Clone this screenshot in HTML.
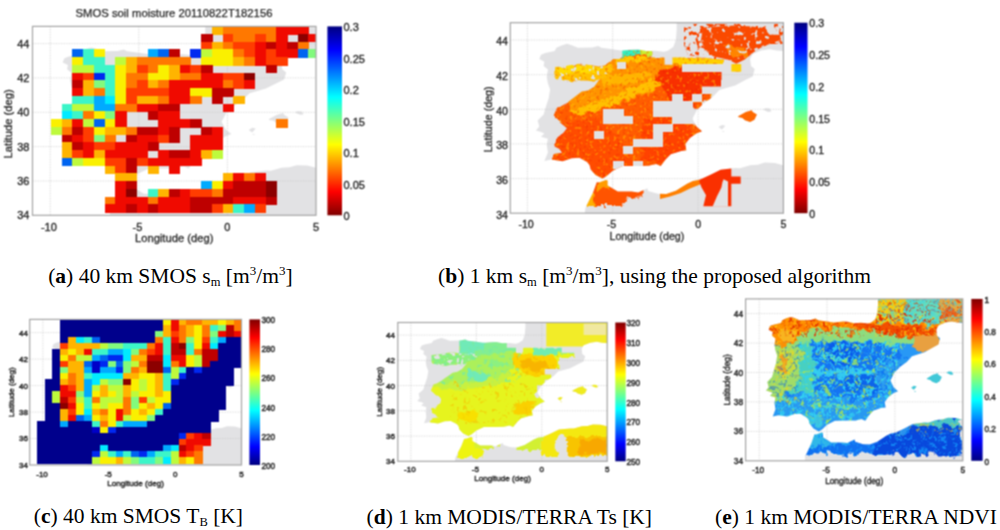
<!DOCTYPE html><html><head><meta charset="utf-8"><style>html,body{margin:0;padding:0;background:#fff;width:1000px;height:530px;overflow:hidden;position:relative}svg{display:block;position:absolute;left:0;top:0}</style></head><body>
<svg id="pn" width="1000" height="530" viewBox="0 0 1000 530">
<defs><clipPath id="clipa"><rect x="32.5" y="26.4" width="283.5" height="188.9"/></clipPath><clipPath id="landa"><path d="M205.3 16.1L205.3 33.3L204.4 43.6L201.7 50.4L195.9 54.2L192.0 55.3L183.1 54.2L174.2 54.7L165.4 53.0L160.1 52.7L147.7 53.9L138.8 52.7L127.1 51.3L123.8 49.4L117.5 51.0L102.7 51.3L96.3 48.7L91.3 47.4L85.7 49.1L80.3 51.3L78.6 54.4L68.8 56.5L64.4 58.2L62.6 62.5L67.9 65.0L67.1 69.3L71.5 72.8L70.2 80.2L71.5 86.5L73.8 92.5L72.4 101.3L69.7 109.0L67.1 117.4L60.8 123.3L62.6 129.4L59.1 133.2L64.4 134.8L67.9 136.3L64.4 139.4L71.5 141.5L70.2 147.5L71.5 155.2L67.9 163.4L75.0 162.1L86.9 163.8L96.3 160.9L104.3 160.3L112.2 164.6L114.7 167.4L116.0 171.9L121.1 177.5L128.2 181.0L132.6 178.6L138.8 173.2L149.1 168.6L165.0 168.4L176.0 168.2L183.8 166.5L188.6 168.6L193.7 162.1L199.1 156.9L210.0 153.5L215.2 153.0L214.1 146.6L218.9 140.8L225.6 136.3L231.5 134.1L225.6 129.4L221.6 121.7L226.5 112.6L234.5 105.4L242.8 99.9L249.6 93.2L265.9 88.6L277.0 83.1L284.1 79.6L286.2 72.4L282.3 69.3L281.4 62.5L284.1 57.3L293.0 53.9L301.8 52.7L308.9 53.9L319.5 54.7L326.6 55.6L326.6 16.1ZM108.7 223.9L110.5 210.1L118.4 194.9L122.3 184.6L124.6 184.7L131.7 182.3L133.5 182.8L133.5 187.8L144.1 193.8L158.3 193.8L165.4 194.7L174.8 190.6L175.5 193.1L185.8 196.1L194.4 196.4L204.4 193.0L216.1 186.1L222.1 183.4L229.0 182.2L239.8 177.5L250.8 172.2L266.2 170.5L270.8 170.8L281.6 167.7L289.4 167.2L296.7 165.2L307.1 165.5L317.2 168.1L326.6 168.9L326.6 223.9ZM269.0 120.0L273.5 120.8L276.1 123.1L281.4 124.8L285.9 122.6L288.5 117.4L284.1 114.8L283.2 113.1L277.0 114.8L269.0 119.1ZM294.7 112.6L300.1 114.8L303.6 114.5L301.8 111.4L297.4 111.2ZM248.7 130.0L252.2 132.4L255.8 128.6L252.2 127.7ZM251.9 134.2L254.9 134.9L254.0 133.7Z"/></clipPath><clipPath id="maina"><path d="M205.3 16.1L205.3 33.3L204.4 43.6L201.7 50.4L195.9 54.2L192.0 55.3L183.1 54.2L174.2 54.7L165.4 53.0L160.1 52.7L147.7 53.9L138.8 52.7L127.1 51.3L123.8 49.4L117.5 51.0L102.7 51.3L96.3 48.7L91.3 47.4L85.7 49.1L80.3 51.3L78.6 54.4L68.8 56.5L64.4 58.2L62.6 62.5L67.9 65.0L67.1 69.3L71.5 72.8L70.2 80.2L71.5 86.5L73.8 92.5L72.4 101.3L69.7 109.0L67.1 117.4L60.8 123.3L62.6 129.4L59.1 133.2L64.4 134.8L67.9 136.3L64.4 139.4L71.5 141.5L70.2 147.5L71.5 155.2L67.9 163.4L75.0 162.1L86.9 163.8L96.3 160.9L104.3 160.3L112.2 164.6L114.7 167.4L116.0 171.9L121.1 177.5L128.2 181.0L132.6 178.6L138.8 173.2L149.1 168.6L165.0 168.4L176.0 168.2L183.8 166.5L188.6 168.6L193.7 162.1L199.1 156.9L210.0 153.5L215.2 153.0L214.1 146.6L218.9 140.8L225.6 136.3L231.5 134.1L225.6 129.4L221.6 121.7L226.5 112.6L234.5 105.4L242.8 99.9L249.6 93.2L265.9 88.6L277.0 83.1L284.1 79.6L286.2 72.4L282.3 69.3L281.4 62.5L284.1 57.3L293.0 53.9L301.8 52.7L308.9 53.9L319.5 54.7L326.6 55.6L326.6 16.1Z"/></clipPath><clipPath id="afra"><path d="M108.7 223.9L110.5 210.1L118.4 194.9L122.3 184.6L124.6 184.7L131.7 182.3L133.5 182.8L133.5 187.8L144.1 193.8L158.3 193.8L165.4 194.7L174.8 190.6L175.5 193.1L185.8 196.1L194.4 196.4L204.4 193.0L216.1 186.1L222.1 183.4L229.0 182.2L239.8 177.5L250.8 172.2L266.2 170.5L270.8 170.8L281.6 167.7L289.4 167.2L296.7 165.2L307.1 165.5L317.2 168.1L326.6 168.9L326.6 223.9Z"/></clipPath><clipPath id="isla"><path d="M269.0 120.0L273.5 120.8L276.1 123.1L281.4 124.8L285.9 122.6L288.5 117.4L284.1 114.8L283.2 113.1L277.0 114.8L269.0 119.1ZM294.7 112.6L300.1 114.8L303.6 114.5L301.8 111.4L297.4 111.2ZM248.7 130.0L252.2 132.4L255.8 128.6L252.2 127.7ZM251.9 134.2L254.9 134.9L254.0 133.7Z"/></clipPath><clipPath id="clipb"><rect x="510.3" y="22.7" width="273.1" height="190.5"/></clipPath><clipPath id="landb"><path d="M676.7 12.3L676.7 29.6L675.9 40.0L673.3 46.9L667.7 50.8L663.9 51.8L655.4 50.8L646.9 51.3L638.3 49.5L633.2 49.2L621.2 50.4L612.7 49.2L601.4 47.8L598.2 45.9L592.2 47.5L577.9 47.8L571.7 45.2L567.0 43.8L561.5 45.6L556.4 47.8L554.7 50.9L545.3 53.0L541.0 54.7L539.3 59.1L544.4 61.7L543.6 66.0L547.9 69.5L546.7 76.9L547.9 83.3L550.1 89.4L548.7 98.2L546.1 106.0L543.6 114.5L537.6 120.4L539.3 126.6L535.9 130.4L541.0 132.0L544.4 133.5L541.0 136.7L547.9 138.7L546.7 144.8L547.9 152.6L544.4 160.9L551.3 159.5L562.7 161.2L571.7 158.3L579.4 157.8L587.1 162.1L589.5 164.9L590.7 169.4L595.6 175.1L602.5 178.6L606.7 176.1L612.7 170.8L622.6 166.1L638.0 165.9L648.6 165.7L656.1 164.0L660.7 166.1L665.6 159.5L670.7 154.3L681.3 150.9L686.3 150.3L685.3 143.9L689.9 138.0L696.3 133.5L702.0 131.3L696.3 126.6L692.4 118.8L697.2 109.6L704.9 102.4L712.9 96.8L719.4 90.1L735.1 85.4L745.8 79.8L752.7 76.4L754.7 69.1L751.0 66.0L750.1 59.1L752.7 53.9L761.2 50.4L769.7 49.2L776.6 50.4L786.8 51.3L793.6 52.1L793.6 12.3ZM583.7 221.9L585.4 208.0L593.1 192.6L596.8 182.2L599.1 182.4L605.9 179.9L607.6 180.5L607.6 185.5L617.8 191.6L631.5 191.6L638.3 192.4L647.4 188.3L648.0 190.9L657.9 193.8L666.3 194.1L675.9 190.7L687.1 183.8L692.9 181.0L699.6 179.8L710.0 175.1L720.6 169.7L735.4 168.0L739.9 168.3L750.3 165.2L757.8 164.7L764.8 162.6L774.9 163.0L784.6 165.6L793.6 166.4L793.6 221.9ZM738.2 117.1L742.4 117.9L745.0 120.2L750.1 121.9L754.4 119.7L756.9 114.5L752.7 111.9L751.8 110.2L745.8 111.9L738.2 116.2ZM762.9 109.6L768.0 111.9L771.5 111.5L769.7 108.4L765.5 108.3ZM718.5 127.1L722.0 129.6L725.4 125.7L722.0 124.9ZM721.6 131.5L724.5 132.2L723.7 130.9Z"/></clipPath><clipPath id="mainb"><path d="M676.7 12.3L676.7 29.6L675.9 40.0L673.3 46.9L667.7 50.8L663.9 51.8L655.4 50.8L646.9 51.3L638.3 49.5L633.2 49.2L621.2 50.4L612.7 49.2L601.4 47.8L598.2 45.9L592.2 47.5L577.9 47.8L571.7 45.2L567.0 43.8L561.5 45.6L556.4 47.8L554.7 50.9L545.3 53.0L541.0 54.7L539.3 59.1L544.4 61.7L543.6 66.0L547.9 69.5L546.7 76.9L547.9 83.3L550.1 89.4L548.7 98.2L546.1 106.0L543.6 114.5L537.6 120.4L539.3 126.6L535.9 130.4L541.0 132.0L544.4 133.5L541.0 136.7L547.9 138.7L546.7 144.8L547.9 152.6L544.4 160.9L551.3 159.5L562.7 161.2L571.7 158.3L579.4 157.8L587.1 162.1L589.5 164.9L590.7 169.4L595.6 175.1L602.5 178.6L606.7 176.1L612.7 170.8L622.6 166.1L638.0 165.9L648.6 165.7L656.1 164.0L660.7 166.1L665.6 159.5L670.7 154.3L681.3 150.9L686.3 150.3L685.3 143.9L689.9 138.0L696.3 133.5L702.0 131.3L696.3 126.6L692.4 118.8L697.2 109.6L704.9 102.4L712.9 96.8L719.4 90.1L735.1 85.4L745.8 79.8L752.7 76.4L754.7 69.1L751.0 66.0L750.1 59.1L752.7 53.9L761.2 50.4L769.7 49.2L776.6 50.4L786.8 51.3L793.6 52.1L793.6 12.3Z"/></clipPath><clipPath id="afrb"><path d="M583.7 221.9L585.4 208.0L593.1 192.6L596.8 182.2L599.1 182.4L605.9 179.9L607.6 180.5L607.6 185.5L617.8 191.6L631.5 191.6L638.3 192.4L647.4 188.3L648.0 190.9L657.9 193.8L666.3 194.1L675.9 190.7L687.1 183.8L692.9 181.0L699.6 179.8L710.0 175.1L720.6 169.7L735.4 168.0L739.9 168.3L750.3 165.2L757.8 164.7L764.8 162.6L774.9 163.0L784.6 165.6L793.6 166.4L793.6 221.9Z"/></clipPath><clipPath id="islb"><path d="M738.2 117.1L742.4 117.9L745.0 120.2L750.1 121.9L754.4 119.7L756.9 114.5L752.7 111.9L751.8 110.2L745.8 111.9L738.2 116.2ZM762.9 109.6L768.0 111.9L771.5 111.5L769.7 108.4L765.5 108.3ZM718.5 127.1L722.0 129.6L725.4 125.7L722.0 124.9ZM721.6 131.5L724.5 132.2L723.7 130.9Z"/></clipPath><clipPath id="clipc"><rect x="29.7" y="319.4" width="211.8" height="145.6"/></clipPath><clipPath id="landc"><path d="M158.8 311.5L158.8 324.7L158.1 332.6L156.1 337.9L151.7 340.8L148.8 341.6L142.2 340.8L135.6 341.2L129.0 339.9L125.0 339.7L115.7 340.6L109.1 339.7L100.4 338.6L97.9 337.1L93.2 338.3L82.1 338.6L77.4 336.6L73.6 335.5L69.4 336.9L65.4 338.6L64.1 341.0L56.8 342.6L53.5 343.9L52.2 347.2L56.2 349.2L55.5 352.5L58.8 355.1L57.9 360.8L58.8 365.7L60.5 370.4L59.5 377.1L57.5 383.1L55.5 389.6L50.9 394.1L52.2 398.8L49.6 401.7L53.5 402.9L56.2 404.1L53.5 406.5L58.8 408.1L57.9 412.7L58.8 418.7L56.2 425.0L61.5 424.0L70.3 425.3L77.4 423.0L83.3 422.6L89.3 426.0L91.1 428.1L92.0 431.5L95.9 435.9L101.2 438.5L104.5 436.7L109.1 432.6L116.8 429.0L128.7 428.9L136.9 428.7L142.7 427.4L146.3 429.0L150.2 424.0L154.1 420.0L162.3 417.3L166.2 417.0L165.4 412.1L169.0 407.6L174.0 404.1L178.4 402.4L174.0 398.8L170.9 392.9L174.7 385.8L180.6 380.3L186.8 376.1L191.9 370.9L204.0 367.3L212.4 363.1L217.7 360.4L219.3 354.9L216.3 352.5L215.7 347.2L217.7 343.2L224.3 340.6L230.9 339.7L236.2 340.6L244.1 341.2L249.4 341.9L249.4 311.5ZM86.6 471.6L87.9 461.0L93.9 449.2L96.8 441.3L98.5 441.4L103.8 439.6L105.2 440.0L105.2 443.8L113.1 448.5L123.7 448.5L129.0 449.1L136.0 445.9L136.5 447.9L144.2 450.2L150.7 450.4L158.1 447.8L166.8 442.5L171.3 440.4L176.5 439.5L184.6 435.9L192.8 431.8L204.3 430.5L207.7 430.7L215.8 428.3L221.6 427.9L227.1 426.3L234.9 426.6L242.4 428.6L249.4 429.3L249.4 471.6ZM206.4 391.5L209.7 392.2L211.7 393.9L215.7 395.2L219.0 393.5L221.0 389.6L217.7 387.6L217.0 386.2L212.4 387.6L206.4 390.9ZM225.6 385.8L229.6 387.6L232.2 387.3L230.9 384.9L227.6 384.8ZM191.2 399.2L193.8 401.1L196.5 398.2L193.8 397.5ZM193.6 402.5L195.8 403.1L195.2 402.1Z"/></clipPath><clipPath id="mainc"><path d="M158.8 311.5L158.8 324.7L158.1 332.6L156.1 337.9L151.7 340.8L148.8 341.6L142.2 340.8L135.6 341.2L129.0 339.9L125.0 339.7L115.7 340.6L109.1 339.7L100.4 338.6L97.9 337.1L93.2 338.3L82.1 338.6L77.4 336.6L73.6 335.5L69.4 336.9L65.4 338.6L64.1 341.0L56.8 342.6L53.5 343.9L52.2 347.2L56.2 349.2L55.5 352.5L58.8 355.1L57.9 360.8L58.8 365.7L60.5 370.4L59.5 377.1L57.5 383.1L55.5 389.6L50.9 394.1L52.2 398.8L49.6 401.7L53.5 402.9L56.2 404.1L53.5 406.5L58.8 408.1L57.9 412.7L58.8 418.7L56.2 425.0L61.5 424.0L70.3 425.3L77.4 423.0L83.3 422.6L89.3 426.0L91.1 428.1L92.0 431.5L95.9 435.9L101.2 438.5L104.5 436.7L109.1 432.6L116.8 429.0L128.7 428.9L136.9 428.7L142.7 427.4L146.3 429.0L150.2 424.0L154.1 420.0L162.3 417.3L166.2 417.0L165.4 412.1L169.0 407.6L174.0 404.1L178.4 402.4L174.0 398.8L170.9 392.9L174.7 385.8L180.6 380.3L186.8 376.1L191.9 370.9L204.0 367.3L212.4 363.1L217.7 360.4L219.3 354.9L216.3 352.5L215.7 347.2L217.7 343.2L224.3 340.6L230.9 339.7L236.2 340.6L244.1 341.2L249.4 341.9L249.4 311.5Z"/></clipPath><clipPath id="afrc"><path d="M86.6 471.6L87.9 461.0L93.9 449.2L96.8 441.3L98.5 441.4L103.8 439.6L105.2 440.0L105.2 443.8L113.1 448.5L123.7 448.5L129.0 449.1L136.0 445.9L136.5 447.9L144.2 450.2L150.7 450.4L158.1 447.8L166.8 442.5L171.3 440.4L176.5 439.5L184.6 435.9L192.8 431.8L204.3 430.5L207.7 430.7L215.8 428.3L221.6 427.9L227.1 426.3L234.9 426.6L242.4 428.6L249.4 429.3L249.4 471.6Z"/></clipPath><clipPath id="islc"><path d="M206.4 391.5L209.7 392.2L211.7 393.9L215.7 395.2L219.0 393.5L221.0 389.6L217.7 387.6L217.0 386.2L212.4 387.6L206.4 390.9ZM225.6 385.8L229.6 387.6L232.2 387.3L230.9 384.9L227.6 384.8ZM191.2 399.2L193.8 401.1L196.5 398.2L193.8 397.5ZM193.6 402.5L195.8 403.1L195.2 402.1Z"/></clipPath><clipPath id="clipd"><rect x="397.8" y="322.5" width="209.4" height="138.8"/></clipPath><clipPath id="landd"><path d="M525.4 314.9L525.4 327.5L524.7 335.1L522.8 340.2L518.5 342.9L515.6 343.7L509.0 342.9L502.5 343.3L496.0 342.1L492.0 341.8L482.9 342.7L476.3 341.8L467.7 340.8L465.2 339.4L460.6 340.5L449.6 340.8L444.9 338.9L441.3 337.9L437.1 339.2L433.1 340.8L431.8 343.1L424.6 344.6L421.4 345.8L420.0 349.0L424.0 350.9L423.3 354.0L426.6 356.6L425.7 362.0L426.6 366.7L428.3 371.1L427.2 377.5L425.3 383.2L423.3 389.4L418.7 393.7L420.0 398.2L417.4 401.0L421.4 402.1L424.0 403.3L421.4 405.5L426.6 407.0L425.7 411.5L426.6 417.1L424.0 423.2L429.2 422.2L438.0 423.4L444.9 421.3L450.8 420.9L456.7 424.1L458.5 426.1L459.4 429.4L463.2 433.5L468.5 436.1L471.7 434.3L476.3 430.4L483.9 427.0L495.7 426.9L503.8 426.7L509.6 425.5L513.1 427.0L516.9 422.2L520.8 418.4L528.9 415.9L532.7 415.5L531.9 410.8L535.5 406.5L540.5 403.3L544.8 401.6L540.5 398.2L537.4 392.5L541.1 385.8L547.0 380.5L553.1 376.5L558.1 371.6L570.2 368.2L578.4 364.1L583.6 361.6L585.2 356.3L582.3 354.0L581.7 349.0L583.6 345.2L590.2 342.7L596.7 341.8L602.0 342.7L609.8 343.3L615.1 344.0L615.1 314.9ZM454.1 467.6L455.4 457.5L461.3 446.3L464.2 438.7L465.9 438.8L471.1 437.1L472.4 437.5L472.4 441.1L480.3 445.5L490.7 445.5L496.0 446.2L502.9 443.1L503.4 445.0L511.0 447.2L517.4 447.4L524.7 444.9L533.4 439.8L537.8 437.8L542.9 436.9L550.9 433.5L559.0 429.6L570.4 428.4L573.8 428.6L581.8 426.3L587.6 426.0L592.9 424.5L600.7 424.7L608.1 426.6L615.1 427.2L615.1 467.6ZM572.5 391.3L575.8 391.9L577.8 393.5L581.7 394.8L585.0 393.2L586.9 389.4L583.6 387.5L583.0 386.2L578.4 387.5L572.5 390.6ZM591.5 385.8L595.4 387.5L598.0 387.2L596.7 385.0L593.5 384.8ZM557.5 398.6L560.1 400.4L562.7 397.6L560.1 396.9ZM559.8 401.7L562.0 402.2L561.4 401.4Z"/></clipPath><clipPath id="maind"><path d="M525.4 314.9L525.4 327.5L524.7 335.1L522.8 340.2L518.5 342.9L515.6 343.7L509.0 342.9L502.5 343.3L496.0 342.1L492.0 341.8L482.9 342.7L476.3 341.8L467.7 340.8L465.2 339.4L460.6 340.5L449.6 340.8L444.9 338.9L441.3 337.9L437.1 339.2L433.1 340.8L431.8 343.1L424.6 344.6L421.4 345.8L420.0 349.0L424.0 350.9L423.3 354.0L426.6 356.6L425.7 362.0L426.6 366.7L428.3 371.1L427.2 377.5L425.3 383.2L423.3 389.4L418.7 393.7L420.0 398.2L417.4 401.0L421.4 402.1L424.0 403.3L421.4 405.5L426.6 407.0L425.7 411.5L426.6 417.1L424.0 423.2L429.2 422.2L438.0 423.4L444.9 421.3L450.8 420.9L456.7 424.1L458.5 426.1L459.4 429.4L463.2 433.5L468.5 436.1L471.7 434.3L476.3 430.4L483.9 427.0L495.7 426.9L503.8 426.7L509.6 425.5L513.1 427.0L516.9 422.2L520.8 418.4L528.9 415.9L532.7 415.5L531.9 410.8L535.5 406.5L540.5 403.3L544.8 401.6L540.5 398.2L537.4 392.5L541.1 385.8L547.0 380.5L553.1 376.5L558.1 371.6L570.2 368.2L578.4 364.1L583.6 361.6L585.2 356.3L582.3 354.0L581.7 349.0L583.6 345.2L590.2 342.7L596.7 341.8L602.0 342.7L609.8 343.3L615.1 344.0L615.1 314.9Z"/></clipPath><clipPath id="afrd"><path d="M454.1 467.6L455.4 457.5L461.3 446.3L464.2 438.7L465.9 438.8L471.1 437.1L472.4 437.5L472.4 441.1L480.3 445.5L490.7 445.5L496.0 446.2L502.9 443.1L503.4 445.0L511.0 447.2L517.4 447.4L524.7 444.9L533.4 439.8L537.8 437.8L542.9 436.9L550.9 433.5L559.0 429.6L570.4 428.4L573.8 428.6L581.8 426.3L587.6 426.0L592.9 424.5L600.7 424.7L608.1 426.6L615.1 427.2L615.1 467.6Z"/></clipPath><clipPath id="isld"><path d="M572.5 391.3L575.8 391.9L577.8 393.5L581.7 394.8L585.0 393.2L586.9 389.4L583.6 387.5L583.0 386.2L578.4 387.5L572.5 390.6ZM591.5 385.8L595.4 387.5L598.0 387.2L596.7 385.0L593.5 384.8ZM557.5 398.6L560.1 400.4L562.7 397.6L560.1 396.9ZM559.8 401.7L562.0 402.2L561.4 401.4Z"/></clipPath><clipPath id="clipe"><rect x="745.6" y="298.9" width="217.2" height="161.9"/></clipPath><clipPath id="lande"><path d="M878.0 290.1L878.0 304.8L877.3 313.6L875.2 319.5L870.8 322.7L867.8 323.6L861.0 322.7L854.2 323.2L847.4 321.7L843.3 321.4L833.8 322.4L827.0 321.4L818.1 320.2L815.5 318.6L810.8 319.9L799.4 320.2L794.5 318.0L790.7 316.9L786.3 318.3L782.3 320.2L780.9 322.9L773.4 324.7L770.0 326.1L768.7 329.8L772.8 332.0L772.1 335.7L775.5 338.6L774.5 345.0L775.5 350.4L777.2 355.6L776.1 363.1L774.1 369.7L772.1 376.9L767.3 381.9L768.7 387.2L766.0 390.4L770.0 391.8L772.8 393.1L770.0 395.7L775.5 397.5L774.5 402.7L775.5 409.3L772.8 416.4L778.2 415.2L787.3 416.6L794.5 414.1L800.6 413.7L806.7 417.4L808.6 419.7L809.5 423.6L813.5 428.4L818.9 431.4L822.3 429.3L827.0 424.7L834.9 420.8L847.1 420.6L855.6 420.5L861.5 419.0L865.2 420.8L869.1 415.2L873.2 410.8L881.6 407.8L885.6 407.4L884.7 401.9L888.4 396.9L893.6 393.1L898.0 391.2L893.6 387.2L890.4 380.6L894.2 372.8L900.4 366.6L906.7 361.9L911.9 356.2L924.4 352.2L932.9 347.5L938.4 344.5L940.0 338.3L937.0 335.7L936.3 329.8L938.4 325.4L945.2 322.4L951.9 321.4L957.4 322.4L965.5 323.2L970.9 323.9L970.9 290.1ZM804.0 468.2L805.3 456.4L811.4 443.3L814.4 434.5L816.2 434.6L821.6 432.5L823.0 433.0L823.0 437.3L831.1 442.4L842.0 442.4L847.4 443.1L854.6 439.6L855.2 441.8L863.0 444.3L869.7 444.6L877.3 441.7L886.2 435.8L890.9 433.4L896.1 432.4L904.4 428.4L912.8 423.9L924.7 422.4L928.2 422.7L936.5 420.0L942.4 419.6L948.0 417.8L956.0 418.1L963.8 420.3L970.9 421.1L970.9 468.2ZM926.8 379.1L930.2 379.9L932.3 381.8L936.3 383.2L939.7 381.3L941.8 376.9L938.4 374.7L937.7 373.2L932.9 374.7L926.8 378.4ZM946.5 372.8L950.6 374.7L953.3 374.4L951.9 371.8L948.5 371.6ZM911.2 387.7L913.9 389.7L916.6 386.5L913.9 385.7ZM913.7 391.3L916.0 391.9L915.3 390.9Z"/></clipPath><clipPath id="maine"><path d="M878.0 290.1L878.0 304.8L877.3 313.6L875.2 319.5L870.8 322.7L867.8 323.6L861.0 322.7L854.2 323.2L847.4 321.7L843.3 321.4L833.8 322.4L827.0 321.4L818.1 320.2L815.5 318.6L810.8 319.9L799.4 320.2L794.5 318.0L790.7 316.9L786.3 318.3L782.3 320.2L780.9 322.9L773.4 324.7L770.0 326.1L768.7 329.8L772.8 332.0L772.1 335.7L775.5 338.6L774.5 345.0L775.5 350.4L777.2 355.6L776.1 363.1L774.1 369.7L772.1 376.9L767.3 381.9L768.7 387.2L766.0 390.4L770.0 391.8L772.8 393.1L770.0 395.7L775.5 397.5L774.5 402.7L775.5 409.3L772.8 416.4L778.2 415.2L787.3 416.6L794.5 414.1L800.6 413.7L806.7 417.4L808.6 419.7L809.5 423.6L813.5 428.4L818.9 431.4L822.3 429.3L827.0 424.7L834.9 420.8L847.1 420.6L855.6 420.5L861.5 419.0L865.2 420.8L869.1 415.2L873.2 410.8L881.6 407.8L885.6 407.4L884.7 401.9L888.4 396.9L893.6 393.1L898.0 391.2L893.6 387.2L890.4 380.6L894.2 372.8L900.4 366.6L906.7 361.9L911.9 356.2L924.4 352.2L932.9 347.5L938.4 344.5L940.0 338.3L937.0 335.7L936.3 329.8L938.4 325.4L945.2 322.4L951.9 321.4L957.4 322.4L965.5 323.2L970.9 323.9L970.9 290.1Z"/></clipPath><clipPath id="afre"><path d="M804.0 468.2L805.3 456.4L811.4 443.3L814.4 434.5L816.2 434.6L821.6 432.5L823.0 433.0L823.0 437.3L831.1 442.4L842.0 442.4L847.4 443.1L854.6 439.6L855.2 441.8L863.0 444.3L869.7 444.6L877.3 441.7L886.2 435.8L890.9 433.4L896.1 432.4L904.4 428.4L912.8 423.9L924.7 422.4L928.2 422.7L936.5 420.0L942.4 419.6L948.0 417.8L956.0 418.1L963.8 420.3L970.9 421.1L970.9 468.2Z"/></clipPath><clipPath id="isle"><path d="M926.8 379.1L930.2 379.9L932.3 381.8L936.3 383.2L939.7 381.3L941.8 376.9L938.4 374.7L937.7 373.2L932.9 374.7L926.8 378.4ZM946.5 372.8L950.6 374.7L953.3 374.4L951.9 371.8L948.5 371.6ZM911.2 387.7L913.9 389.7L916.6 386.5L913.9 385.7ZM913.7 391.3L916.0 391.9L915.3 390.9Z"/></clipPath><filter id="cv" x="0" y="0" width="1000" height="530" filterUnits="userSpaceOnUse" color-interpolation-filters="sRGB"><feConvolveMatrix order="3" kernelMatrix="1 2 1 2 4 2 1 2 1" divisor="16" edgeMode="duplicate"/></filter><filter id="warpB" x="-10%" y="-10%" width="120%" height="120%" color-interpolation-filters="sRGB"><feTurbulence type="fractalNoise" baseFrequency="0.15" numOctaves="3" seed="5" result="t"/><feDisplacementMap in="SourceGraphic" in2="t" scale="9" xChannelSelector="R" yChannelSelector="G"/></filter><filter id="warpD" x="-10%" y="-10%" width="120%" height="120%" color-interpolation-filters="sRGB"><feTurbulence type="fractalNoise" baseFrequency="0.12" numOctaves="3" seed="9" result="t"/><feDisplacementMap in="SourceGraphic" in2="t" scale="10" xChannelSelector="R" yChannelSelector="G"/></filter><filter id="spkFr" x="0" y="0" width="1" height="1" color-interpolation-filters="sRGB"><feTurbulence type="fractalNoise" baseFrequency="0.22" numOctaves="2" seed="3"/><feColorMatrix type="matrix" values="0 0 0 0 0.886 0 0 0 0 0.886 0 0 0 0 0.894 12.00 0 0 0 -7.200"/><feComponentTransfer><feFuncA type="linear" slope="1.00"/></feComponentTransfer></filter><filter id="spkFr2" x="0" y="0" width="1" height="1" color-interpolation-filters="sRGB"><feTurbulence type="fractalNoise" baseFrequency="0.22" numOctaves="2" seed="5"/><feColorMatrix type="matrix" values="0 0 0 0 0.886 0 0 0 0 0.886 0 0 0 0 0.894 12.00 0 0 0 -4.560"/><feComponentTransfer><feFuncA type="linear" slope="1.00"/></feComponentTransfer></filter><filter id="spkG50" x="0" y="0" width="1" height="1" color-interpolation-filters="sRGB"><feTurbulence type="fractalNoise" baseFrequency="0.25" numOctaves="2" seed="41"/><feColorMatrix type="matrix" values="0 0 0 0 0.886 0 0 0 0 0.886 0 0 0 0 0.894 12.00 0 0 0 -6.600"/><feComponentTransfer><feFuncA type="linear" slope="1.00"/></feComponentTransfer></filter><filter id="spkBy" x="0" y="0" width="1" height="1" color-interpolation-filters="sRGB"><feTurbulence type="fractalNoise" baseFrequency="0.3" numOctaves="2" seed="4"/><feColorMatrix type="matrix" values="0 0 0 0 1.000 0 0 0 0 0.784 0 0 0 0 0.000 12.00 0 0 0 -7.200"/><feComponentTransfer><feFuncA type="linear" slope="1.00"/></feComponentTransfer></filter><filter id="spkBr" x="0" y="0" width="1" height="1" color-interpolation-filters="sRGB"><feTurbulence type="fractalNoise" baseFrequency="0.35" numOctaves="2" seed="8"/><feColorMatrix type="matrix" values="0 0 0 0 0.922 0 0 0 0 0.118 0 0 0 0 0.000 12.00 0 0 0 -7.440"/><feComponentTransfer><feFuncA type="linear" slope="1.00"/></feComponentTransfer></filter><filter id="spkEc" x="0" y="0" width="1" height="1" color-interpolation-filters="sRGB"><feTurbulence type="fractalNoise" baseFrequency="0.3" numOctaves="2" seed="21"/><feColorMatrix type="matrix" values="0 0 0 0 0.196 0 0 0 0 0.824 0 0 0 0 0.941 12.00 0 0 0 -6.360"/><feComponentTransfer><feFuncA type="linear" slope="1.00"/></feComponentTransfer></filter><filter id="spkEg" x="0" y="0" width="1" height="1" color-interpolation-filters="sRGB"><feTurbulence type="fractalNoise" baseFrequency="0.22" numOctaves="2" seed="22"/><feColorMatrix type="matrix" values="0 0 0 0 0.667 0 0 0 0 0.902 0 0 0 0 0.314 12.00 0 0 0 -7.320"/><feComponentTransfer><feFuncA type="linear" slope="1.00"/></feComponentTransfer></filter><filter id="spkEr" x="0" y="0" width="1" height="1" color-interpolation-filters="sRGB"><feTurbulence type="fractalNoise" baseFrequency="0.3" numOctaves="2" seed="23"/><feColorMatrix type="matrix" values="0 0 0 0 0.882 0 0 0 0 0.157 0 0 0 0 0.000 12.00 0 0 0 -6.840"/><feComponentTransfer><feFuncA type="linear" slope="1.00"/></feComponentTransfer></filter><filter id="spkEy" x="0" y="0" width="1" height="1" color-interpolation-filters="sRGB"><feTurbulence type="fractalNoise" baseFrequency="0.3" numOctaves="2" seed="24"/><feColorMatrix type="matrix" values="0 0 0 0 0.980 0 0 0 0 0.824 0 0 0 0 0.078 12.00 0 0 0 -7.200"/><feComponentTransfer><feFuncA type="linear" slope="1.00"/></feComponentTransfer></filter><filter id="spkEb" x="0" y="0" width="1" height="1" color-interpolation-filters="sRGB"><feTurbulence type="fractalNoise" baseFrequency="0.3" numOctaves="2" seed="25"/><feColorMatrix type="matrix" values="0 0 0 0 0.000 0 0 0 0 0.353 0 0 0 0 0.941 12.00 0 0 0 -6.840"/><feComponentTransfer><feFuncA type="linear" slope="1.00"/></feComponentTransfer></filter><filter id="spkEa" x="0" y="0" width="1" height="1" color-interpolation-filters="sRGB"><feTurbulence type="fractalNoise" baseFrequency="0.3" numOctaves="2" seed="26"/><feColorMatrix type="matrix" values="0 0 0 0 0.078 0 0 0 0 0.588 0 0 0 0 0.980 12.00 0 0 0 -6.960"/><feComponentTransfer><feFuncA type="linear" slope="1.00"/></feComponentTransfer></filter><filter id="spkDc" x="0" y="0" width="1" height="1" color-interpolation-filters="sRGB"><feTurbulence type="fractalNoise" baseFrequency="0.25" numOctaves="2" seed="31"/><feColorMatrix type="matrix" values="0 0 0 0 0.471 0 0 0 0 0.922 0 0 0 0 0.627 12.00 0 0 0 -7.200"/><feComponentTransfer><feFuncA type="linear" slope="1.00"/></feComponentTransfer></filter><filter id="spkDo" x="0" y="0" width="1" height="1" color-interpolation-filters="sRGB"><feTurbulence type="fractalNoise" baseFrequency="0.25" numOctaves="2" seed="32"/><feColorMatrix type="matrix" values="0 0 0 0 0.961 0 0 0 0 0.745 0 0 0 0 0.000 12.00 0 0 0 -7.440"/><feComponentTransfer><feFuncA type="linear" slope="1.00"/></feComponentTransfer></filter><filter id="warpE" x="-10%" y="-10%" width="120%" height="120%" color-interpolation-filters="sRGB"><feTurbulence type="fractalNoise" baseFrequency="0.12" numOctaves="3" seed="7" result="t"/><feDisplacementMap in="SourceGraphic" in2="t" scale="14" xChannelSelector="R" yChannelSelector="G"/></filter><linearGradient id="cba" x1="0" y1="0" x2="0" y2="1"><stop offset="0.0000" stop-color="#00007f"/><stop offset="0.0156" stop-color="#00008f"/><stop offset="0.0312" stop-color="#00009f"/><stop offset="0.0469" stop-color="#0000af"/><stop offset="0.0625" stop-color="#0000bf"/><stop offset="0.0781" stop-color="#0000cf"/><stop offset="0.0938" stop-color="#0000df"/><stop offset="0.1094" stop-color="#0000ef"/><stop offset="0.1250" stop-color="#0000ff"/><stop offset="0.1406" stop-color="#000fff"/><stop offset="0.1562" stop-color="#001fff"/><stop offset="0.1719" stop-color="#002fff"/><stop offset="0.1875" stop-color="#003fff"/><stop offset="0.2031" stop-color="#004fff"/><stop offset="0.2188" stop-color="#005fff"/><stop offset="0.2344" stop-color="#006fff"/><stop offset="0.2500" stop-color="#007fff"/><stop offset="0.2656" stop-color="#008fff"/><stop offset="0.2812" stop-color="#009fff"/><stop offset="0.2969" stop-color="#00afff"/><stop offset="0.3125" stop-color="#00bfff"/><stop offset="0.3281" stop-color="#00cfff"/><stop offset="0.3438" stop-color="#00dfff"/><stop offset="0.3594" stop-color="#00efff"/><stop offset="0.3750" stop-color="#00ffff"/><stop offset="0.3906" stop-color="#0fffef"/><stop offset="0.4062" stop-color="#1fffdf"/><stop offset="0.4219" stop-color="#2fffcf"/><stop offset="0.4375" stop-color="#3fffbf"/><stop offset="0.4531" stop-color="#4fffaf"/><stop offset="0.4688" stop-color="#5fff9f"/><stop offset="0.4844" stop-color="#6fff8f"/><stop offset="0.5000" stop-color="#7fff7f"/><stop offset="0.5156" stop-color="#8fff6f"/><stop offset="0.5312" stop-color="#9fff5f"/><stop offset="0.5469" stop-color="#afff4f"/><stop offset="0.5625" stop-color="#bfff3f"/><stop offset="0.5781" stop-color="#cfff2f"/><stop offset="0.5938" stop-color="#dfff1f"/><stop offset="0.6094" stop-color="#efff0f"/><stop offset="0.6250" stop-color="#ffff00"/><stop offset="0.6406" stop-color="#ffef00"/><stop offset="0.6562" stop-color="#ffdf00"/><stop offset="0.6719" stop-color="#ffcf00"/><stop offset="0.6875" stop-color="#ffbf00"/><stop offset="0.7031" stop-color="#ffaf00"/><stop offset="0.7188" stop-color="#ff9f00"/><stop offset="0.7344" stop-color="#ff8f00"/><stop offset="0.7500" stop-color="#ff7f00"/><stop offset="0.7656" stop-color="#ff6f00"/><stop offset="0.7812" stop-color="#ff5f00"/><stop offset="0.7969" stop-color="#ff4f00"/><stop offset="0.8125" stop-color="#ff3f00"/><stop offset="0.8281" stop-color="#ff2f00"/><stop offset="0.8438" stop-color="#ff1f00"/><stop offset="0.8594" stop-color="#ff0f00"/><stop offset="0.8750" stop-color="#ff0000"/><stop offset="0.8906" stop-color="#ef0000"/><stop offset="0.9062" stop-color="#df0000"/><stop offset="0.9219" stop-color="#cf0000"/><stop offset="0.9375" stop-color="#bf0000"/><stop offset="0.9531" stop-color="#af0000"/><stop offset="0.9688" stop-color="#9f0000"/><stop offset="0.9844" stop-color="#8f0000"/><stop offset="1.0000" stop-color="#7f0000"/></linearGradient><linearGradient id="cbb" x1="0" y1="0" x2="0" y2="1"><stop offset="0.0000" stop-color="#00007f"/><stop offset="0.0156" stop-color="#00008f"/><stop offset="0.0312" stop-color="#00009f"/><stop offset="0.0469" stop-color="#0000af"/><stop offset="0.0625" stop-color="#0000bf"/><stop offset="0.0781" stop-color="#0000cf"/><stop offset="0.0938" stop-color="#0000df"/><stop offset="0.1094" stop-color="#0000ef"/><stop offset="0.1250" stop-color="#0000ff"/><stop offset="0.1406" stop-color="#000fff"/><stop offset="0.1562" stop-color="#001fff"/><stop offset="0.1719" stop-color="#002fff"/><stop offset="0.1875" stop-color="#003fff"/><stop offset="0.2031" stop-color="#004fff"/><stop offset="0.2188" stop-color="#005fff"/><stop offset="0.2344" stop-color="#006fff"/><stop offset="0.2500" stop-color="#007fff"/><stop offset="0.2656" stop-color="#008fff"/><stop offset="0.2812" stop-color="#009fff"/><stop offset="0.2969" stop-color="#00afff"/><stop offset="0.3125" stop-color="#00bfff"/><stop offset="0.3281" stop-color="#00cfff"/><stop offset="0.3438" stop-color="#00dfff"/><stop offset="0.3594" stop-color="#00efff"/><stop offset="0.3750" stop-color="#00ffff"/><stop offset="0.3906" stop-color="#0fffef"/><stop offset="0.4062" stop-color="#1fffdf"/><stop offset="0.4219" stop-color="#2fffcf"/><stop offset="0.4375" stop-color="#3fffbf"/><stop offset="0.4531" stop-color="#4fffaf"/><stop offset="0.4688" stop-color="#5fff9f"/><stop offset="0.4844" stop-color="#6fff8f"/><stop offset="0.5000" stop-color="#7fff7f"/><stop offset="0.5156" stop-color="#8fff6f"/><stop offset="0.5312" stop-color="#9fff5f"/><stop offset="0.5469" stop-color="#afff4f"/><stop offset="0.5625" stop-color="#bfff3f"/><stop offset="0.5781" stop-color="#cfff2f"/><stop offset="0.5938" stop-color="#dfff1f"/><stop offset="0.6094" stop-color="#efff0f"/><stop offset="0.6250" stop-color="#ffff00"/><stop offset="0.6406" stop-color="#ffef00"/><stop offset="0.6562" stop-color="#ffdf00"/><stop offset="0.6719" stop-color="#ffcf00"/><stop offset="0.6875" stop-color="#ffbf00"/><stop offset="0.7031" stop-color="#ffaf00"/><stop offset="0.7188" stop-color="#ff9f00"/><stop offset="0.7344" stop-color="#ff8f00"/><stop offset="0.7500" stop-color="#ff7f00"/><stop offset="0.7656" stop-color="#ff6f00"/><stop offset="0.7812" stop-color="#ff5f00"/><stop offset="0.7969" stop-color="#ff4f00"/><stop offset="0.8125" stop-color="#ff3f00"/><stop offset="0.8281" stop-color="#ff2f00"/><stop offset="0.8438" stop-color="#ff1f00"/><stop offset="0.8594" stop-color="#ff0f00"/><stop offset="0.8750" stop-color="#ff0000"/><stop offset="0.8906" stop-color="#ef0000"/><stop offset="0.9062" stop-color="#df0000"/><stop offset="0.9219" stop-color="#cf0000"/><stop offset="0.9375" stop-color="#bf0000"/><stop offset="0.9531" stop-color="#af0000"/><stop offset="0.9688" stop-color="#9f0000"/><stop offset="0.9844" stop-color="#8f0000"/><stop offset="1.0000" stop-color="#7f0000"/></linearGradient><linearGradient id="cbc" x1="0" y1="0" x2="0" y2="1"><stop offset="0.0000" stop-color="#7f0000"/><stop offset="0.0156" stop-color="#8f0000"/><stop offset="0.0312" stop-color="#9f0000"/><stop offset="0.0469" stop-color="#af0000"/><stop offset="0.0625" stop-color="#bf0000"/><stop offset="0.0781" stop-color="#cf0000"/><stop offset="0.0938" stop-color="#df0000"/><stop offset="0.1094" stop-color="#ef0000"/><stop offset="0.1250" stop-color="#ff0000"/><stop offset="0.1406" stop-color="#ff0f00"/><stop offset="0.1562" stop-color="#ff1f00"/><stop offset="0.1719" stop-color="#ff2f00"/><stop offset="0.1875" stop-color="#ff3f00"/><stop offset="0.2031" stop-color="#ff4f00"/><stop offset="0.2188" stop-color="#ff5f00"/><stop offset="0.2344" stop-color="#ff6f00"/><stop offset="0.2500" stop-color="#ff7f00"/><stop offset="0.2656" stop-color="#ff8f00"/><stop offset="0.2812" stop-color="#ff9f00"/><stop offset="0.2969" stop-color="#ffaf00"/><stop offset="0.3125" stop-color="#ffbf00"/><stop offset="0.3281" stop-color="#ffcf00"/><stop offset="0.3438" stop-color="#ffdf00"/><stop offset="0.3594" stop-color="#ffef00"/><stop offset="0.3750" stop-color="#ffff00"/><stop offset="0.3906" stop-color="#efff0f"/><stop offset="0.4062" stop-color="#dfff1f"/><stop offset="0.4219" stop-color="#cfff2f"/><stop offset="0.4375" stop-color="#bfff3f"/><stop offset="0.4531" stop-color="#afff4f"/><stop offset="0.4688" stop-color="#9fff5f"/><stop offset="0.4844" stop-color="#8fff6f"/><stop offset="0.5000" stop-color="#7fff7f"/><stop offset="0.5156" stop-color="#6fff8f"/><stop offset="0.5312" stop-color="#5fff9f"/><stop offset="0.5469" stop-color="#4fffaf"/><stop offset="0.5625" stop-color="#3fffbf"/><stop offset="0.5781" stop-color="#2fffcf"/><stop offset="0.5938" stop-color="#1fffdf"/><stop offset="0.6094" stop-color="#0fffef"/><stop offset="0.6250" stop-color="#00ffff"/><stop offset="0.6406" stop-color="#00efff"/><stop offset="0.6562" stop-color="#00dfff"/><stop offset="0.6719" stop-color="#00cfff"/><stop offset="0.6875" stop-color="#00bfff"/><stop offset="0.7031" stop-color="#00afff"/><stop offset="0.7188" stop-color="#009fff"/><stop offset="0.7344" stop-color="#008fff"/><stop offset="0.7500" stop-color="#007fff"/><stop offset="0.7656" stop-color="#006fff"/><stop offset="0.7812" stop-color="#005fff"/><stop offset="0.7969" stop-color="#004fff"/><stop offset="0.8125" stop-color="#003fff"/><stop offset="0.8281" stop-color="#002fff"/><stop offset="0.8438" stop-color="#001fff"/><stop offset="0.8594" stop-color="#000fff"/><stop offset="0.8750" stop-color="#0000ff"/><stop offset="0.8906" stop-color="#0000ef"/><stop offset="0.9062" stop-color="#0000df"/><stop offset="0.9219" stop-color="#0000cf"/><stop offset="0.9375" stop-color="#0000bf"/><stop offset="0.9531" stop-color="#0000af"/><stop offset="0.9688" stop-color="#00009f"/><stop offset="0.9844" stop-color="#00008f"/><stop offset="1.0000" stop-color="#00007f"/></linearGradient><linearGradient id="cbd" x1="0" y1="0" x2="0" y2="1"><stop offset="0.0000" stop-color="#7f0000"/><stop offset="0.0156" stop-color="#8f0000"/><stop offset="0.0312" stop-color="#9f0000"/><stop offset="0.0469" stop-color="#af0000"/><stop offset="0.0625" stop-color="#bf0000"/><stop offset="0.0781" stop-color="#cf0000"/><stop offset="0.0938" stop-color="#df0000"/><stop offset="0.1094" stop-color="#ef0000"/><stop offset="0.1250" stop-color="#ff0000"/><stop offset="0.1406" stop-color="#ff0f00"/><stop offset="0.1562" stop-color="#ff1f00"/><stop offset="0.1719" stop-color="#ff2f00"/><stop offset="0.1875" stop-color="#ff3f00"/><stop offset="0.2031" stop-color="#ff4f00"/><stop offset="0.2188" stop-color="#ff5f00"/><stop offset="0.2344" stop-color="#ff6f00"/><stop offset="0.2500" stop-color="#ff7f00"/><stop offset="0.2656" stop-color="#ff8f00"/><stop offset="0.2812" stop-color="#ff9f00"/><stop offset="0.2969" stop-color="#ffaf00"/><stop offset="0.3125" stop-color="#ffbf00"/><stop offset="0.3281" stop-color="#ffcf00"/><stop offset="0.3438" stop-color="#ffdf00"/><stop offset="0.3594" stop-color="#ffef00"/><stop offset="0.3750" stop-color="#ffff00"/><stop offset="0.3906" stop-color="#efff0f"/><stop offset="0.4062" stop-color="#dfff1f"/><stop offset="0.4219" stop-color="#cfff2f"/><stop offset="0.4375" stop-color="#bfff3f"/><stop offset="0.4531" stop-color="#afff4f"/><stop offset="0.4688" stop-color="#9fff5f"/><stop offset="0.4844" stop-color="#8fff6f"/><stop offset="0.5000" stop-color="#7fff7f"/><stop offset="0.5156" stop-color="#6fff8f"/><stop offset="0.5312" stop-color="#5fff9f"/><stop offset="0.5469" stop-color="#4fffaf"/><stop offset="0.5625" stop-color="#3fffbf"/><stop offset="0.5781" stop-color="#2fffcf"/><stop offset="0.5938" stop-color="#1fffdf"/><stop offset="0.6094" stop-color="#0fffef"/><stop offset="0.6250" stop-color="#00ffff"/><stop offset="0.6406" stop-color="#00efff"/><stop offset="0.6562" stop-color="#00dfff"/><stop offset="0.6719" stop-color="#00cfff"/><stop offset="0.6875" stop-color="#00bfff"/><stop offset="0.7031" stop-color="#00afff"/><stop offset="0.7188" stop-color="#009fff"/><stop offset="0.7344" stop-color="#008fff"/><stop offset="0.7500" stop-color="#007fff"/><stop offset="0.7656" stop-color="#006fff"/><stop offset="0.7812" stop-color="#005fff"/><stop offset="0.7969" stop-color="#004fff"/><stop offset="0.8125" stop-color="#003fff"/><stop offset="0.8281" stop-color="#002fff"/><stop offset="0.8438" stop-color="#001fff"/><stop offset="0.8594" stop-color="#000fff"/><stop offset="0.8750" stop-color="#0000ff"/><stop offset="0.8906" stop-color="#0000ef"/><stop offset="0.9062" stop-color="#0000df"/><stop offset="0.9219" stop-color="#0000cf"/><stop offset="0.9375" stop-color="#0000bf"/><stop offset="0.9531" stop-color="#0000af"/><stop offset="0.9688" stop-color="#00009f"/><stop offset="0.9844" stop-color="#00008f"/><stop offset="1.0000" stop-color="#00007f"/></linearGradient><linearGradient id="cbe" x1="0" y1="0" x2="0" y2="1"><stop offset="0.0000" stop-color="#7f0000"/><stop offset="0.0156" stop-color="#8f0000"/><stop offset="0.0312" stop-color="#9f0000"/><stop offset="0.0469" stop-color="#af0000"/><stop offset="0.0625" stop-color="#bf0000"/><stop offset="0.0781" stop-color="#cf0000"/><stop offset="0.0938" stop-color="#df0000"/><stop offset="0.1094" stop-color="#ef0000"/><stop offset="0.1250" stop-color="#ff0000"/><stop offset="0.1406" stop-color="#ff0f00"/><stop offset="0.1562" stop-color="#ff1f00"/><stop offset="0.1719" stop-color="#ff2f00"/><stop offset="0.1875" stop-color="#ff3f00"/><stop offset="0.2031" stop-color="#ff4f00"/><stop offset="0.2188" stop-color="#ff5f00"/><stop offset="0.2344" stop-color="#ff6f00"/><stop offset="0.2500" stop-color="#ff7f00"/><stop offset="0.2656" stop-color="#ff8f00"/><stop offset="0.2812" stop-color="#ff9f00"/><stop offset="0.2969" stop-color="#ffaf00"/><stop offset="0.3125" stop-color="#ffbf00"/><stop offset="0.3281" stop-color="#ffcf00"/><stop offset="0.3438" stop-color="#ffdf00"/><stop offset="0.3594" stop-color="#ffef00"/><stop offset="0.3750" stop-color="#ffff00"/><stop offset="0.3906" stop-color="#efff0f"/><stop offset="0.4062" stop-color="#dfff1f"/><stop offset="0.4219" stop-color="#cfff2f"/><stop offset="0.4375" stop-color="#bfff3f"/><stop offset="0.4531" stop-color="#afff4f"/><stop offset="0.4688" stop-color="#9fff5f"/><stop offset="0.4844" stop-color="#8fff6f"/><stop offset="0.5000" stop-color="#7fff7f"/><stop offset="0.5156" stop-color="#6fff8f"/><stop offset="0.5312" stop-color="#5fff9f"/><stop offset="0.5469" stop-color="#4fffaf"/><stop offset="0.5625" stop-color="#3fffbf"/><stop offset="0.5781" stop-color="#2fffcf"/><stop offset="0.5938" stop-color="#1fffdf"/><stop offset="0.6094" stop-color="#0fffef"/><stop offset="0.6250" stop-color="#00ffff"/><stop offset="0.6406" stop-color="#00efff"/><stop offset="0.6562" stop-color="#00dfff"/><stop offset="0.6719" stop-color="#00cfff"/><stop offset="0.6875" stop-color="#00bfff"/><stop offset="0.7031" stop-color="#00afff"/><stop offset="0.7188" stop-color="#009fff"/><stop offset="0.7344" stop-color="#008fff"/><stop offset="0.7500" stop-color="#007fff"/><stop offset="0.7656" stop-color="#006fff"/><stop offset="0.7812" stop-color="#005fff"/><stop offset="0.7969" stop-color="#004fff"/><stop offset="0.8125" stop-color="#003fff"/><stop offset="0.8281" stop-color="#002fff"/><stop offset="0.8438" stop-color="#001fff"/><stop offset="0.8594" stop-color="#000fff"/><stop offset="0.8750" stop-color="#0000ff"/><stop offset="0.8906" stop-color="#0000ef"/><stop offset="0.9062" stop-color="#0000df"/><stop offset="0.9219" stop-color="#0000cf"/><stop offset="0.9375" stop-color="#0000bf"/><stop offset="0.9531" stop-color="#0000af"/><stop offset="0.9688" stop-color="#00009f"/><stop offset="0.9844" stop-color="#00008f"/><stop offset="1.0000" stop-color="#00007f"/></linearGradient></defs>
<rect width="1000" height="530" fill="#fff"/><g filter="url(#cv)"><rect width="1000" height="530" fill="#fff"/>
<g clip-path="url(#clipa)"><path d="M205.3 16.1L205.3 33.3L204.4 43.6L201.7 50.4L195.9 54.2L192.0 55.3L183.1 54.2L174.2 54.7L165.4 53.0L160.1 52.7L147.7 53.9L138.8 52.7L127.1 51.3L123.8 49.4L117.5 51.0L102.7 51.3L96.3 48.7L91.3 47.4L85.7 49.1L80.3 51.3L78.6 54.4L68.8 56.5L64.4 58.2L62.6 62.5L67.9 65.0L67.1 69.3L71.5 72.8L70.2 80.2L71.5 86.5L73.8 92.5L72.4 101.3L69.7 109.0L67.1 117.4L60.8 123.3L62.6 129.4L59.1 133.2L64.4 134.8L67.9 136.3L64.4 139.4L71.5 141.5L70.2 147.5L71.5 155.2L67.9 163.4L75.0 162.1L86.9 163.8L96.3 160.9L104.3 160.3L112.2 164.6L114.7 167.4L116.0 171.9L121.1 177.5L128.2 181.0L132.6 178.6L138.8 173.2L149.1 168.6L165.0 168.4L176.0 168.2L183.8 166.5L188.6 168.6L193.7 162.1L199.1 156.9L210.0 153.5L215.2 153.0L214.1 146.6L218.9 140.8L225.6 136.3L231.5 134.1L225.6 129.4L221.6 121.7L226.5 112.6L234.5 105.4L242.8 99.9L249.6 93.2L265.9 88.6L277.0 83.1L284.1 79.6L286.2 72.4L282.3 69.3L281.4 62.5L284.1 57.3L293.0 53.9L301.8 52.7L308.9 53.9L319.5 54.7L326.6 55.6L326.6 16.1ZM108.7 223.9L110.5 210.1L118.4 194.9L122.3 184.6L124.6 184.7L131.7 182.3L133.5 182.8L133.5 187.8L144.1 193.8L158.3 193.8L165.4 194.7L174.8 190.6L175.5 193.1L185.8 196.1L194.4 196.4L204.4 193.0L216.1 186.1L222.1 183.4L229.0 182.2L239.8 177.5L250.8 172.2L266.2 170.5L270.8 170.8L281.6 167.7L289.4 167.2L296.7 165.2L307.1 165.5L317.2 168.1L326.6 168.9L326.6 223.9ZM269.0 120.0L273.5 120.8L276.1 123.1L281.4 124.8L285.9 122.6L288.5 117.4L284.1 114.8L283.2 113.1L277.0 114.8L269.0 119.1ZM294.7 112.6L300.1 114.8L303.6 114.5L301.8 111.4L297.4 111.2ZM248.7 130.0L252.2 132.4L255.8 128.6L252.2 127.7ZM251.9 134.2L254.9 134.9L254.0 133.7Z" fill="#e2e2e4"/></g>
<g stroke="#c4c4c4" stroke-width="0.7" stroke-dasharray="1.2 1.4"><line x1="50.2" y1="26.4" x2="50.2" y2="215.3"/><line x1="138.8" y1="26.4" x2="138.8" y2="215.3"/><line x1="227.4" y1="26.4" x2="227.4" y2="215.3"/><line x1="32.5" y1="181.0" x2="316.0" y2="181.0"/><line x1="32.5" y1="146.6" x2="316.0" y2="146.6"/><line x1="32.5" y1="112.3" x2="316.0" y2="112.3"/><line x1="32.5" y1="77.9" x2="316.0" y2="77.9"/><line x1="32.5" y1="43.6" x2="316.0" y2="43.6"/></g>
<g clip-path="url(#clipa)" shape-rendering="crispEdges"><rect x="211.91" y="26.20" width="11.33" height="8.35" fill="#ffb400"/><rect x="222.64" y="26.20" width="54.25" height="8.35" fill="#ff7800"/><rect x="276.29" y="26.20" width="32.79" height="8.35" fill="#f00a00"/><rect x="201.18" y="33.95" width="11.33" height="8.35" fill="#be0000"/><rect x="222.64" y="33.95" width="11.33" height="8.35" fill="#ff3c00"/><rect x="233.37" y="33.95" width="22.06" height="8.35" fill="#ff7800"/><rect x="254.83" y="33.95" width="11.33" height="8.35" fill="#ff3c00"/><rect x="265.56" y="33.95" width="11.33" height="8.35" fill="#ff7800"/><rect x="276.29" y="33.95" width="11.33" height="8.35" fill="#f00a00"/><rect x="297.75" y="33.95" width="11.33" height="8.35" fill="#8c0000"/><rect x="308.48" y="33.95" width="11.33" height="8.35" fill="#f00a00"/><rect x="201.18" y="41.70" width="11.33" height="8.35" fill="#ff3c00"/><rect x="211.91" y="41.70" width="11.33" height="8.35" fill="#ffb400"/><rect x="222.64" y="41.70" width="11.33" height="8.35" fill="#ff7800"/><rect x="233.37" y="41.70" width="22.06" height="8.35" fill="#ff3c00"/><rect x="254.83" y="41.70" width="11.33" height="8.35" fill="#f00a00"/><rect x="265.56" y="41.70" width="11.33" height="8.35" fill="#be0000"/><rect x="276.29" y="41.70" width="11.33" height="8.35" fill="#f00a00"/><rect x="287.02" y="41.70" width="11.33" height="8.35" fill="#be0000"/><rect x="297.75" y="41.70" width="11.33" height="8.35" fill="#ff7800"/><rect x="72.42" y="49.45" width="11.33" height="8.35" fill="#0064f0"/><rect x="83.15" y="49.45" width="11.33" height="8.35" fill="#3cf5c8"/><rect x="93.88" y="49.45" width="11.33" height="8.35" fill="#faf000"/><rect x="147.53" y="49.45" width="11.33" height="8.35" fill="#00aaff"/><rect x="158.26" y="49.45" width="11.33" height="8.35" fill="#0064f0"/><rect x="168.99" y="49.45" width="11.33" height="8.35" fill="#be0000"/><rect x="190.45" y="49.45" width="11.33" height="8.35" fill="#0028f0"/><rect x="201.18" y="49.45" width="11.33" height="8.35" fill="#befa3c"/><rect x="211.91" y="49.45" width="22.06" height="8.35" fill="#faf000"/><rect x="233.37" y="49.45" width="11.33" height="8.35" fill="#ff7800"/><rect x="244.10" y="49.45" width="11.33" height="8.35" fill="#ff3c00"/><rect x="254.83" y="49.45" width="11.33" height="8.35" fill="#f00a00"/><rect x="265.56" y="49.45" width="11.33" height="8.35" fill="#ff3c00"/><rect x="276.29" y="49.45" width="22.06" height="8.35" fill="#f00a00"/><rect x="297.75" y="49.45" width="11.33" height="8.35" fill="#0064f0"/><rect x="308.48" y="49.45" width="11.33" height="8.35" fill="#82fa7d"/><rect x="72.42" y="57.20" width="11.33" height="8.35" fill="#faf000"/><rect x="83.15" y="57.20" width="22.06" height="8.35" fill="#3cf5c8"/><rect x="115.34" y="57.20" width="11.33" height="8.35" fill="#befa3c"/><rect x="126.07" y="57.20" width="11.33" height="8.35" fill="#ffb400"/><rect x="136.80" y="57.20" width="54.25" height="8.35" fill="#ff7800"/><rect x="201.18" y="57.20" width="32.79" height="8.35" fill="#faf000"/><rect x="233.37" y="57.20" width="11.33" height="8.35" fill="#ffb400"/><rect x="244.10" y="57.20" width="11.33" height="8.35" fill="#ff7800"/><rect x="254.83" y="57.20" width="11.33" height="8.35" fill="#f00a00"/><rect x="265.56" y="57.20" width="22.06" height="8.35" fill="#ff3c00"/><rect x="72.42" y="64.95" width="22.06" height="8.35" fill="#befa3c"/><rect x="93.88" y="64.95" width="22.06" height="8.35" fill="#3cf5c8"/><rect x="115.34" y="64.95" width="11.33" height="8.35" fill="#faf000"/><rect x="126.07" y="64.95" width="11.33" height="8.35" fill="#ffb400"/><rect x="136.80" y="64.95" width="11.33" height="8.35" fill="#ff3c00"/><rect x="147.53" y="64.95" width="11.33" height="8.35" fill="#ff7800"/><rect x="158.26" y="64.95" width="11.33" height="8.35" fill="#faf000"/><rect x="168.99" y="64.95" width="11.33" height="8.35" fill="#ffb400"/><rect x="179.72" y="64.95" width="11.33" height="8.35" fill="#f00a00"/><rect x="190.45" y="64.95" width="11.33" height="8.35" fill="#ff3c00"/><rect x="201.18" y="64.95" width="11.33" height="8.35" fill="#be0000"/><rect x="265.56" y="64.95" width="11.33" height="8.35" fill="#be0000"/><rect x="72.42" y="72.70" width="11.33" height="8.35" fill="#f00a00"/><rect x="83.15" y="72.70" width="11.33" height="8.35" fill="#ff3c00"/><rect x="93.88" y="72.70" width="11.33" height="8.35" fill="#0028f0"/><rect x="104.61" y="72.70" width="11.33" height="8.35" fill="#3cf5c8"/><rect x="115.34" y="72.70" width="11.33" height="8.35" fill="#faf000"/><rect x="126.07" y="72.70" width="22.06" height="8.35" fill="#ff7800"/><rect x="147.53" y="72.70" width="22.06" height="8.35" fill="#faf000"/><rect x="168.99" y="72.70" width="11.33" height="8.35" fill="#ffb400"/><rect x="179.72" y="72.70" width="22.06" height="8.35" fill="#ff7800"/><rect x="201.18" y="72.70" width="22.06" height="8.35" fill="#f00a00"/><rect x="222.64" y="72.70" width="22.06" height="8.35" fill="#ff3c00"/><rect x="244.10" y="72.70" width="11.33" height="8.35" fill="#8c0000"/><rect x="72.42" y="80.45" width="11.33" height="8.35" fill="#be0000"/><rect x="83.15" y="80.45" width="11.33" height="8.35" fill="#ffb400"/><rect x="93.88" y="80.45" width="11.33" height="8.35" fill="#82fa7d"/><rect x="104.61" y="80.45" width="11.33" height="8.35" fill="#3cf5c8"/><rect x="115.34" y="80.45" width="11.33" height="8.35" fill="#faf000"/><rect x="126.07" y="80.45" width="11.33" height="8.35" fill="#ff7800"/><rect x="136.80" y="80.45" width="11.33" height="8.35" fill="#ff3c00"/><rect x="147.53" y="80.45" width="11.33" height="8.35" fill="#ffb400"/><rect x="158.26" y="80.45" width="11.33" height="8.35" fill="#ff7800"/><rect x="168.99" y="80.45" width="54.25" height="8.35" fill="#f00a00"/><rect x="222.64" y="80.45" width="11.33" height="8.35" fill="#ff7800"/><rect x="233.37" y="80.45" width="11.33" height="8.35" fill="#ff3c00"/><rect x="244.10" y="80.45" width="11.33" height="8.35" fill="#f00a00"/><rect x="72.42" y="88.20" width="11.33" height="8.35" fill="#f00a00"/><rect x="83.15" y="88.20" width="11.33" height="8.35" fill="#ffb400"/><rect x="93.88" y="88.20" width="11.33" height="8.35" fill="#ff7800"/><rect x="104.61" y="88.20" width="11.33" height="8.35" fill="#3cf5c8"/><rect x="115.34" y="88.20" width="11.33" height="8.35" fill="#faf000"/><rect x="126.07" y="88.20" width="43.52" height="8.35" fill="#ff3c00"/><rect x="168.99" y="88.20" width="22.06" height="8.35" fill="#f00a00"/><rect x="190.45" y="88.20" width="22.06" height="8.35" fill="#faf000"/><rect x="211.91" y="88.20" width="22.06" height="8.35" fill="#be0000"/><rect x="72.42" y="95.95" width="22.06" height="8.35" fill="#3cf5c8"/><rect x="93.88" y="95.95" width="11.33" height="8.35" fill="#00aaff"/><rect x="104.61" y="95.95" width="11.33" height="8.35" fill="#00ebff"/><rect x="115.34" y="95.95" width="11.33" height="8.35" fill="#faf000"/><rect x="126.07" y="95.95" width="11.33" height="8.35" fill="#ff3c00"/><rect x="136.80" y="95.95" width="22.06" height="8.35" fill="#ffb400"/><rect x="158.26" y="95.95" width="11.33" height="8.35" fill="#ff7800"/><rect x="168.99" y="95.95" width="22.06" height="8.35" fill="#f00a00"/><rect x="190.45" y="95.95" width="11.33" height="8.35" fill="#ff7800"/><rect x="211.91" y="95.95" width="11.33" height="8.35" fill="#be0000"/><rect x="233.37" y="95.95" width="11.33" height="8.35" fill="#ffb400"/><rect x="61.69" y="103.70" width="11.33" height="8.35" fill="#3cf5c8"/><rect x="72.42" y="103.70" width="22.06" height="8.35" fill="#befa3c"/><rect x="93.88" y="103.70" width="22.06" height="8.35" fill="#00aaff"/><rect x="115.34" y="103.70" width="22.06" height="8.35" fill="#ff7800"/><rect x="136.80" y="103.70" width="22.06" height="8.35" fill="#f00a00"/><rect x="158.26" y="103.70" width="22.06" height="8.35" fill="#be0000"/><rect x="222.64" y="103.70" width="11.33" height="8.35" fill="#f00a00"/><rect x="61.69" y="111.45" width="11.33" height="8.35" fill="#00ebff"/><rect x="72.42" y="111.45" width="11.33" height="8.35" fill="#3cf5c8"/><rect x="83.15" y="111.45" width="11.33" height="8.35" fill="#ff7800"/><rect x="93.88" y="111.45" width="11.33" height="8.35" fill="#faf000"/><rect x="104.61" y="111.45" width="11.33" height="8.35" fill="#82fa7d"/><rect x="115.34" y="111.45" width="11.33" height="8.35" fill="#f00a00"/><rect x="147.53" y="111.45" width="11.33" height="8.35" fill="#be0000"/><rect x="158.26" y="111.45" width="22.06" height="8.35" fill="#f00a00"/><rect x="50.96" y="119.20" width="11.33" height="8.35" fill="#faf000"/><rect x="61.69" y="119.20" width="11.33" height="8.35" fill="#ffb400"/><rect x="72.42" y="119.20" width="11.33" height="8.35" fill="#f00a00"/><rect x="83.15" y="119.20" width="11.33" height="8.35" fill="#befa3c"/><rect x="93.88" y="119.20" width="11.33" height="8.35" fill="#0064f0"/><rect x="104.61" y="119.20" width="11.33" height="8.35" fill="#faf000"/><rect x="115.34" y="119.20" width="11.33" height="8.35" fill="#f00a00"/><rect x="158.26" y="119.20" width="32.79" height="8.35" fill="#f00a00"/><rect x="190.45" y="119.20" width="11.33" height="8.35" fill="#be0000"/><rect x="276.29" y="119.20" width="11.33" height="8.35" fill="#ff7800"/><rect x="50.96" y="126.95" width="11.33" height="8.35" fill="#befa3c"/><rect x="61.69" y="126.95" width="11.33" height="8.35" fill="#ff7800"/><rect x="72.42" y="126.95" width="11.33" height="8.35" fill="#be0000"/><rect x="83.15" y="126.95" width="11.33" height="8.35" fill="#ff3c00"/><rect x="93.88" y="126.95" width="11.33" height="8.35" fill="#faf000"/><rect x="104.61" y="126.95" width="22.06" height="8.35" fill="#ffb400"/><rect x="126.07" y="126.95" width="11.33" height="8.35" fill="#ff7800"/><rect x="136.80" y="126.95" width="22.06" height="8.35" fill="#be0000"/><rect x="158.26" y="126.95" width="11.33" height="8.35" fill="#f00a00"/><rect x="168.99" y="126.95" width="11.33" height="8.35" fill="#be0000"/><rect x="201.18" y="126.95" width="11.33" height="8.35" fill="#be0000"/><rect x="211.91" y="126.95" width="11.33" height="8.35" fill="#f00a00"/><rect x="61.69" y="134.70" width="11.33" height="8.35" fill="#be0000"/><rect x="72.42" y="134.70" width="11.33" height="8.35" fill="#f00a00"/><rect x="83.15" y="134.70" width="11.33" height="8.35" fill="#ff3c00"/><rect x="93.88" y="134.70" width="11.33" height="8.35" fill="#82fa7d"/><rect x="104.61" y="134.70" width="11.33" height="8.35" fill="#ff7800"/><rect x="126.07" y="134.70" width="11.33" height="8.35" fill="#be0000"/><rect x="136.80" y="134.70" width="22.06" height="8.35" fill="#f00a00"/><rect x="158.26" y="134.70" width="11.33" height="8.35" fill="#ff3c00"/><rect x="168.99" y="134.70" width="11.33" height="8.35" fill="#be0000"/><rect x="190.45" y="134.70" width="32.79" height="8.35" fill="#f00a00"/><rect x="61.69" y="142.45" width="11.33" height="8.35" fill="#ffb400"/><rect x="72.42" y="142.45" width="11.33" height="8.35" fill="#be0000"/><rect x="83.15" y="142.45" width="11.33" height="8.35" fill="#f00a00"/><rect x="93.88" y="142.45" width="22.06" height="8.35" fill="#ff3c00"/><rect x="115.34" y="142.45" width="32.79" height="8.35" fill="#f00a00"/><rect x="147.53" y="142.45" width="11.33" height="8.35" fill="#be0000"/><rect x="190.45" y="142.45" width="32.79" height="8.35" fill="#f00a00"/><rect x="61.69" y="150.20" width="11.33" height="8.35" fill="#ffb400"/><rect x="72.42" y="150.20" width="11.33" height="8.35" fill="#ff3c00"/><rect x="83.15" y="150.20" width="11.33" height="8.35" fill="#f00a00"/><rect x="93.88" y="150.20" width="11.33" height="8.35" fill="#ffb400"/><rect x="104.61" y="150.20" width="43.52" height="8.35" fill="#f00a00"/><rect x="158.26" y="150.20" width="11.33" height="8.35" fill="#f00a00"/><rect x="168.99" y="150.20" width="22.06" height="8.35" fill="#be0000"/><rect x="190.45" y="150.20" width="11.33" height="8.35" fill="#f00a00"/><rect x="201.18" y="150.20" width="11.33" height="8.35" fill="#ffb400"/><rect x="211.91" y="150.20" width="11.33" height="8.35" fill="#befa3c"/><rect x="61.69" y="157.95" width="11.33" height="8.35" fill="#0064f0"/><rect x="72.42" y="157.95" width="11.33" height="8.35" fill="#befa3c"/><rect x="83.15" y="157.95" width="22.06" height="8.35" fill="#faf000"/><rect x="104.61" y="157.95" width="22.06" height="8.35" fill="#ff3c00"/><rect x="126.07" y="157.95" width="11.33" height="8.35" fill="#be0000"/><rect x="136.80" y="157.95" width="11.33" height="8.35" fill="#ff3c00"/><rect x="147.53" y="157.95" width="54.25" height="8.35" fill="#f00a00"/><rect x="104.61" y="165.70" width="11.33" height="8.35" fill="#ffb400"/><rect x="115.34" y="165.70" width="11.33" height="8.35" fill="#ff3c00"/><rect x="126.07" y="165.70" width="11.33" height="8.35" fill="#be0000"/><rect x="147.53" y="165.70" width="11.33" height="8.35" fill="#ffb400"/><rect x="168.99" y="165.70" width="11.33" height="8.35" fill="#f00a00"/><rect x="115.34" y="173.45" width="22.06" height="8.35" fill="#ffb400"/><rect x="222.64" y="173.45" width="11.33" height="8.35" fill="#ffb400"/><rect x="233.37" y="173.45" width="11.33" height="8.35" fill="#f00a00"/><rect x="244.10" y="173.45" width="11.33" height="8.35" fill="#ff7800"/><rect x="254.83" y="173.45" width="11.33" height="8.35" fill="#f00a00"/><rect x="115.34" y="181.20" width="11.33" height="8.35" fill="#f00a00"/><rect x="126.07" y="181.20" width="11.33" height="8.35" fill="#be0000"/><rect x="201.18" y="181.20" width="11.33" height="8.35" fill="#00aaff"/><rect x="211.91" y="181.20" width="11.33" height="8.35" fill="#faf000"/><rect x="222.64" y="181.20" width="11.33" height="8.35" fill="#f00a00"/><rect x="233.37" y="181.20" width="32.79" height="8.35" fill="#be0000"/><rect x="265.56" y="181.20" width="11.33" height="8.35" fill="#8c0000"/><rect x="115.34" y="188.95" width="11.33" height="8.35" fill="#f00a00"/><rect x="126.07" y="188.95" width="11.33" height="8.35" fill="#8c0000"/><rect x="147.53" y="188.95" width="11.33" height="8.35" fill="#3cf5c8"/><rect x="158.26" y="188.95" width="11.33" height="8.35" fill="#ffb400"/><rect x="168.99" y="188.95" width="11.33" height="8.35" fill="#be0000"/><rect x="179.72" y="188.95" width="11.33" height="8.35" fill="#f00a00"/><rect x="190.45" y="188.95" width="22.06" height="8.35" fill="#ff3c00"/><rect x="211.91" y="188.95" width="11.33" height="8.35" fill="#ff7800"/><rect x="222.64" y="188.95" width="43.52" height="8.35" fill="#be0000"/><rect x="265.56" y="188.95" width="11.33" height="8.35" fill="#8c0000"/><rect x="104.61" y="196.70" width="11.33" height="8.35" fill="#ff7800"/><rect x="115.34" y="196.70" width="32.79" height="8.35" fill="#f00a00"/><rect x="147.53" y="196.70" width="11.33" height="8.35" fill="#ff7800"/><rect x="158.26" y="196.70" width="32.79" height="8.35" fill="#f00a00"/><rect x="190.45" y="196.70" width="43.52" height="8.35" fill="#be0000"/><rect x="233.37" y="196.70" width="32.79" height="8.35" fill="#f00a00"/><rect x="265.56" y="196.70" width="11.33" height="8.35" fill="#be0000"/><rect x="104.61" y="204.45" width="22.06" height="8.35" fill="#f00a00"/><rect x="126.07" y="204.45" width="11.33" height="8.35" fill="#be0000"/><rect x="136.80" y="204.45" width="11.33" height="8.35" fill="#f00a00"/><rect x="147.53" y="204.45" width="11.33" height="8.35" fill="#be0000"/><rect x="158.26" y="204.45" width="32.79" height="8.35" fill="#f00a00"/><rect x="190.45" y="204.45" width="22.06" height="8.35" fill="#be0000"/><rect x="211.91" y="204.45" width="11.33" height="8.35" fill="#ff3c00"/><rect x="222.64" y="204.45" width="11.33" height="8.35" fill="#ffb400"/><rect x="233.37" y="204.45" width="11.33" height="8.35" fill="#3cf5c8"/><rect x="244.10" y="204.45" width="11.33" height="8.35" fill="#00aaff"/><rect x="254.83" y="204.45" width="11.33" height="8.35" fill="#ff3c00"/></g>
<rect x="32.5" y="26.4" width="283.5" height="188.9" fill="none" stroke="#a4a4a4" stroke-width="1.2"/>
<g font-family="Liberation Sans" font-size="11.0" fill="#262626" stroke="#262626" stroke-width="0.35"><text x="48.9" y="230.5" text-anchor="middle">-10</text><text x="137.5" y="230.5" text-anchor="middle">-5</text><text x="227.4" y="230.5" text-anchor="middle">0</text><text x="316.0" y="230.5" text-anchor="middle">5</text><text x="29.5" y="219.3" text-anchor="end">34</text><text x="29.5" y="184.9" text-anchor="end">36</text><text x="29.5" y="150.6" text-anchor="end">38</text><text x="29.5" y="116.2" text-anchor="end">40</text><text x="29.5" y="81.9" text-anchor="end">42</text><text x="29.5" y="47.5" text-anchor="end">44</text></g>
<text x="174.2" y="242.4" text-anchor="middle" font-family="Liberation Sans" font-size="11.2" fill="#262626" stroke="#262626" stroke-width="0.30">Longitude (deg)</text>
<text transform="translate(11.8 123.9) rotate(-90)" text-anchor="middle" font-family="Liberation Sans" font-size="11.2" fill="#262626" stroke="#262626" stroke-width="0.30">Latitude (deg)</text>
<text x="174" y="17.3" text-anchor="middle" font-family="Liberation Sans" font-size="11.3" fill="#262626" stroke="#262626" stroke-width="0.25">SMOS soil moisture 20110822T182156</text>
<rect x="327.4" y="26.4" width="14.6" height="188.9" fill="url(#cba)"/>
<g font-family="Liberation Sans" font-size="11.0" fill="#262626" stroke="#262626" stroke-width="0.35"><text x="343.5" y="220.1">0</text><text x="343.5" y="188.6">0.05</text><text x="343.5" y="157.1">0.1</text><text x="343.5" y="125.6">0.15</text><text x="343.5" y="94.1">0.2</text><text x="343.5" y="62.6">0.25</text><text x="343.5" y="31.2">0.3</text></g>
<g clip-path="url(#clipb)"><path d="M676.7 12.3L676.7 29.6L675.9 40.0L673.3 46.9L667.7 50.8L663.9 51.8L655.4 50.8L646.9 51.3L638.3 49.5L633.2 49.2L621.2 50.4L612.7 49.2L601.4 47.8L598.2 45.9L592.2 47.5L577.9 47.8L571.7 45.2L567.0 43.8L561.5 45.6L556.4 47.8L554.7 50.9L545.3 53.0L541.0 54.7L539.3 59.1L544.4 61.7L543.6 66.0L547.9 69.5L546.7 76.9L547.9 83.3L550.1 89.4L548.7 98.2L546.1 106.0L543.6 114.5L537.6 120.4L539.3 126.6L535.9 130.4L541.0 132.0L544.4 133.5L541.0 136.7L547.9 138.7L546.7 144.8L547.9 152.6L544.4 160.9L551.3 159.5L562.7 161.2L571.7 158.3L579.4 157.8L587.1 162.1L589.5 164.9L590.7 169.4L595.6 175.1L602.5 178.6L606.7 176.1L612.7 170.8L622.6 166.1L638.0 165.9L648.6 165.7L656.1 164.0L660.7 166.1L665.6 159.5L670.7 154.3L681.3 150.9L686.3 150.3L685.3 143.9L689.9 138.0L696.3 133.5L702.0 131.3L696.3 126.6L692.4 118.8L697.2 109.6L704.9 102.4L712.9 96.8L719.4 90.1L735.1 85.4L745.8 79.8L752.7 76.4L754.7 69.1L751.0 66.0L750.1 59.1L752.7 53.9L761.2 50.4L769.7 49.2L776.6 50.4L786.8 51.3L793.6 52.1L793.6 12.3ZM583.7 221.9L585.4 208.0L593.1 192.6L596.8 182.2L599.1 182.4L605.9 179.9L607.6 180.5L607.6 185.5L617.8 191.6L631.5 191.6L638.3 192.4L647.4 188.3L648.0 190.9L657.9 193.8L666.3 194.1L675.9 190.7L687.1 183.8L692.9 181.0L699.6 179.8L710.0 175.1L720.6 169.7L735.4 168.0L739.9 168.3L750.3 165.2L757.8 164.7L764.8 162.6L774.9 163.0L784.6 165.6L793.6 166.4L793.6 221.9ZM738.2 117.1L742.4 117.9L745.0 120.2L750.1 121.9L754.4 119.7L756.9 114.5L752.7 111.9L751.8 110.2L745.8 111.9L738.2 116.2ZM762.9 109.6L768.0 111.9L771.5 111.5L769.7 108.4L765.5 108.3ZM718.5 127.1L722.0 129.6L725.4 125.7L722.0 124.9ZM721.6 131.5L724.5 132.2L723.7 130.9Z" fill="#e2e2e4"/></g>
<g stroke="#c4c4c4" stroke-width="0.7" stroke-dasharray="1.2 1.4"><line x1="527.4" y1="22.7" x2="527.4" y2="213.2"/><line x1="612.7" y1="22.7" x2="612.7" y2="213.2"/><line x1="698.1" y1="22.7" x2="698.1" y2="213.2"/><line x1="510.3" y1="178.6" x2="783.4" y2="178.6"/><line x1="510.3" y1="143.9" x2="783.4" y2="143.9"/><line x1="510.3" y1="109.3" x2="783.4" y2="109.3"/><line x1="510.3" y1="74.7" x2="783.4" y2="74.7"/><line x1="510.3" y1="40.0" x2="783.4" y2="40.0"/></g>
<defs><clipPath id="bdata"><path d="M605.1 65.2L613.7 58.5L622.3 56.7L622.3 50.5L640.0 49.5L652.5 50.3L652.5 57.4L664.5 57.4L664.5 64.7L672.5 64.7L672.5 57.4L724.0 57.4L724.0 64.2L741.2 64.2L741.2 71.6L721.5 71.6L721.5 86.5L701.9 86.5L701.9 94.0L711.7 94.0L711.7 101.4L701.9 101.4L701.9 108.8L692.0 108.8L692.0 123.8L705.0 123.8L705.0 200.0L545.0 200.0L545.0 170.0L552.2 157.7L553.4 154.0L562.0 152.8L559.5 149.1L554.6 146.6L553.4 141.7L558.3 136.8L563.2 133.1L566.9 128.2L559.5 122.0L553.4 116.0L557.1 107.4L561.0 106.3L567.1 102.7L572.0 99.0L576.9 95.3L581.8 91.6L588.0 90.4L594.1 86.7L597.8 81.8L602.7 75.7Z"/><path d="M554.2 67.1L563.4 66.5L573.2 64.6L581.8 63.4L591.6 65.2L599.0 66.5L605.1 65.2L612.0 64.0L614.0 70.0L605.1 75.7L600.2 78.7L594.1 81.8L586.7 80.6L579.4 80.6L573.2 82.4L563.4 80.6L556.0 79.4L554.2 76.9Z"/></clipPath></defs>
<defs><clipPath id="bnw"><path d="M554.2 67.1L563.4 66.5L573.2 64.6L581.8 63.4L591.6 65.2L599.0 66.5L605.1 65.2L612.0 64.0L614.0 70.0L605.1 75.7L600.2 78.7L594.1 81.8L586.7 80.6L579.4 80.6L573.2 82.4L563.4 80.6L556.0 79.4L554.2 76.9Z"/></clipPath></defs>
<g clip-path="url(#mainb)"><g clip-path="url(#bdata)"><g filter="url(#warpB)"><path d="M605.1 65.2L613.7 58.5L622.3 56.7L622.3 50.5L640.0 49.5L652.5 50.3L652.5 57.4L664.5 57.4L664.5 64.7L672.5 64.7L672.5 57.4L724.0 57.4L724.0 64.2L741.2 64.2L741.2 71.6L721.5 71.6L721.5 86.5L701.9 86.5L701.9 94.0L711.7 94.0L711.7 101.4L701.9 101.4L701.9 108.8L692.0 108.8L692.0 123.8L705.0 123.8L705.0 200.0L545.0 200.0L545.0 170.0L552.2 157.7L553.4 154.0L562.0 152.8L559.5 149.1L554.6 146.6L553.4 141.7L558.3 136.8L563.2 133.1L566.9 128.2L559.5 122.0L553.4 116.0L557.1 107.4L561.0 106.3L567.1 102.7L572.0 99.0L576.9 95.3L581.8 91.6L588.0 90.4L594.1 86.7L597.8 81.8L602.7 75.7Z" fill="#ff5c00"/><path d="M590.0 66.0L625.0 58.0L662.0 60.0L668.0 75.0L652.0 92.0L622.0 102.0L596.0 110.0L575.0 116.0L566.0 104.0Z" fill="#ff9400"/><path d="M600.0 72.0L630.0 64.0L655.0 64.0L650.0 76.0L625.0 84.0L602.0 86.0Z" fill="#ffb400"/><path d="M572.0 110.0L590.0 104.0L612.0 97.0L632.0 88.0L650.0 80.0L662.0 80.0L660.0 86.0L640.0 94.0L615.0 104.0L592.0 112.0L575.0 116.0Z" fill="#ffc000"/><path d="M660.0 58.0L722.0 58.0L722.0 88.0L702.0 96.0L692.0 108.0L672.0 100.0L657.0 80.0Z" fill="#f83000"/><path d="M645.0 118.0L692.0 118.0L692.0 150.0L665.0 162.0L640.0 160.0Z" fill="#ff4200"/><path d="M553.0 125.0L598.0 118.0L625.0 145.0L640.0 175.0L600.0 182.0L556.0 168.0Z" fill="#ff4c00"/><path d="M605.0 62.0L625.0 57.0L672.0 57.4L724.0 57.4L724.0 64.5L690.0 66.0L650.0 70.0L620.0 76.0L606.0 74.0Z" fill="#ff9000"/><path d="M672.0 57.4L724.0 57.4L724.0 64.2L672.0 64.2Z" fill="#ffd000"/><path d="M613.0 58.5L622.3 56.7L652.0 57.0L640.0 62.0L615.0 63.0Z" fill="#ffc800"/><path d="M622.3 50.5L640.0 49.5L641.0 55.0L622.3 56.7Z" fill="#30f0c0"/><path d="M640.0 49.5L652.5 50.3L652.5 56.0L641.0 55.0Z" fill="#c8f030"/><path d="M554.2 67.1L563.4 66.5L573.2 64.6L581.8 63.4L591.6 65.2L599.0 66.5L605.1 65.2L612.0 64.0L614.0 70.0L605.1 75.7L600.2 78.7L594.1 81.8L586.7 80.6L579.4 80.6L573.2 82.4L563.4 80.6L556.0 79.4L554.2 76.9Z" fill="#ffc000"/><path d="M556.0 68.0L575.0 65.0L592.0 66.0L604.0 67.0L600.0 72.0L580.0 73.0L560.0 74.0Z" fill="#ffdc00"/></g></g><g clip-path="url(#bdata)"><rect x="555" y="50" width="170" height="140" filter="url(#spkBy)" opacity="0.45"/><rect x="555" y="50" width="170" height="140" filter="url(#spkBr)" opacity="0.35"/></g><g clip-path="url(#bnw)"><rect x="550" y="60" width="70" height="26" filter="url(#spkFr)"/></g></g>
<g fill="#e2e2e4" clip-path="url(#mainb)" shape-rendering="crispEdges"><rect x="603.35" y="108.85" width="10.4" height="8.0"/><rect x="613.20" y="108.85" width="10.4" height="8.0"/><rect x="603.35" y="116.30" width="10.4" height="8.0"/><rect x="613.20" y="116.30" width="10.4" height="8.0"/><rect x="623.05" y="116.30" width="10.4" height="8.0"/><rect x="593.50" y="131.20" width="10.4" height="8.0"/><rect x="652.60" y="101.40" width="10.4" height="8.0"/><rect x="662.45" y="101.40" width="10.4" height="8.0"/><rect x="672.30" y="101.40" width="10.4" height="8.0"/><rect x="682.15" y="101.40" width="10.4" height="8.0"/><rect x="652.60" y="108.85" width="10.4" height="8.0"/><rect x="662.45" y="108.85" width="10.4" height="8.0"/><rect x="672.30" y="108.85" width="10.4" height="8.0"/><rect x="682.15" y="108.85" width="10.4" height="8.0"/><rect x="672.30" y="116.30" width="10.4" height="8.0"/><rect x="682.15" y="116.30" width="10.4" height="8.0"/><rect x="672.30" y="93.95" width="10.4" height="8.0"/><rect x="692.00" y="93.95" width="10.4" height="8.0"/><rect x="652.60" y="123.75" width="10.4" height="8.0"/><rect x="662.45" y="123.75" width="10.4" height="8.0"/><rect x="652.60" y="131.20" width="10.4" height="8.0"/><rect x="632.90" y="138.65" width="10.4" height="8.0"/><rect x="642.75" y="138.65" width="10.4" height="8.0"/><rect x="652.60" y="138.65" width="10.4" height="8.0"/><rect x="623.05" y="146.10" width="10.4" height="8.0"/><rect x="613.20" y="161.00" width="10.4" height="8.0"/><rect x="632.90" y="161.00" width="10.4" height="8.0"/><rect x="682.15" y="64.15" width="10.4" height="8.0"/><rect x="692.00" y="64.15" width="10.4" height="8.0"/><rect x="701.85" y="64.15" width="10.4" height="8.0"/><rect x="711.70" y="64.15" width="10.4" height="8.0"/><rect x="721.55" y="64.15" width="10.4" height="8.0"/><rect x="617.4" y="62.2" width="8.6" height="6.7"/></g>
<g clip-path="url(#mainb)"><rect x="731.4" y="64.15" width="9.8" height="7.45" fill="#ffd000"/></g>
<g clip-path="url(#afrb)"><g filter="url(#warpB)"><path d="M585.0 172.0L625.0 172.0L640.0 185.0L645.0 190.0L642.0 196.5L622.3 200.5L622.3 206.0L585.0 206.0Z" fill="#ff5400"/><path d="M584.0 193.0L593.5 193.0L593.5 206.0L584.0 206.0Z" fill="#ffb000"/><path d="M596.0 178.0L612.0 178.0L608.0 190.0L598.0 191.0Z" fill="#ff9c00"/></g></g>
<g clip-path="url(#afrb)"><path d="M660.0 170.0L700.0 165.0L700.0 184.5L690.0 188.5L680.8 193.0L670.0 196.5L660.0 199.0Z" fill="#ff8000"/><path d="M699.4 160.0L731.3 160.0L731.3 176.5L740.7 176.5L740.7 183.7L731.3 183.7L731.3 206.2L703.3 206.2L706.0 195.2L701.6 187.5L699.4 182.0Z" fill="#fa3000"/><path d="M723.6 179.3L728.0 181.5L728.0 206.5L712.6 206.5L717.0 196.3L721.4 187.5L722.5 182.0Z" fill="#e2e2e4"/></g>
<g clip-path="url(#islb)"><rect x="738" y="105" width="20" height="20" fill="#ff6a00"/></g>
<defs><clipPath id="frclip"><path d="M684.0 24.0L783.0 24.0L783.0 44.0L770.0 44.0L760.0 48.0L754.0 52.0L746.0 58.0L735.0 60.0L714.0 59.0L700.0 57.0L688.0 55.0L684.0 45.0Z"/></clipPath><clipPath id="frcore"><path d="M703.1 27.4L732.1 25.4L752.9 26.4L765.3 29.5L769.5 34.7L779.9 34.7L780.9 39.9L769.5 44.0L761.2 46.1L755.0 48.2L750.8 54.4L744.6 59.6L736.3 63.8L728.0 59.6L713.5 56.5L705.2 50.3L701.0 39.9Z"/></clipPath></defs>
<g clip-path="url(#mainb)"><g clip-path="url(#frclip)"><g filter="url(#warpB)"><rect x="680" y="20" width="110" height="50" fill="#fa4600"/></g><rect x="680" y="20" width="110" height="50" filter="url(#spkFr2)"/></g></g>
<g clip-path="url(#mainb)"><g clip-path="url(#frcore)"><g filter="url(#warpB)"><rect x="680" y="20" width="110" height="50" fill="#fa4a00"/><path d="M725.0 45.0L745.0 48.0L750.0 58.0L735.0 58.0Z" fill="#ff8400"/></g><rect x="680" y="20" width="110" height="50" filter="url(#spkFr)"/></g></g>
<rect x="510.3" y="22.7" width="273.1" height="190.5" fill="none" stroke="#a4a4a4" stroke-width="1.2"/>
<g font-family="Liberation Sans" font-size="10.6" fill="#262626" stroke="#262626" stroke-width="0.35"><text x="526.1" y="227.5" text-anchor="middle">-10</text><text x="611.4" y="227.5" text-anchor="middle">-5</text><text x="698.1" y="227.5" text-anchor="middle">0</text><text x="783.4" y="227.5" text-anchor="middle">5</text><text x="508.0" y="218.5" text-anchor="end">34</text><text x="508.0" y="183.9" text-anchor="end">36</text><text x="508.0" y="149.2" text-anchor="end">38</text><text x="508.0" y="114.6" text-anchor="end">40</text><text x="508.0" y="80.0" text-anchor="end">42</text><text x="508.0" y="45.3" text-anchor="end">44</text></g>
<text x="646.9" y="240.2" text-anchor="middle" font-family="Liberation Sans" font-size="10.7" fill="#262626" stroke="#262626" stroke-width="0.30">Longitude (deg)</text>
<text transform="translate(491.8 119.4) rotate(-90)" text-anchor="middle" font-family="Liberation Sans" font-size="10.7" fill="#262626" stroke="#262626" stroke-width="0.30">Latitude (deg)</text>
<rect x="794.3" y="22.7" width="13.2" height="190.5" fill="url(#cbb)"/>
<g font-family="Liberation Sans" font-size="10.6" fill="#262626" stroke="#262626" stroke-width="0.35"><text x="809.3" y="217.8">0</text><text x="809.3" y="186.1">0.05</text><text x="809.3" y="154.3">0.1</text><text x="809.3" y="122.6">0.15</text><text x="809.3" y="90.8">0.2</text><text x="809.3" y="59.1">0.25</text><text x="809.3" y="27.3">0.3</text></g>
<g clip-path="url(#clipc)"><path d="M158.8 311.5L158.8 324.7L158.1 332.6L156.1 337.9L151.7 340.8L148.8 341.6L142.2 340.8L135.6 341.2L129.0 339.9L125.0 339.7L115.7 340.6L109.1 339.7L100.4 338.6L97.9 337.1L93.2 338.3L82.1 338.6L77.4 336.6L73.6 335.5L69.4 336.9L65.4 338.6L64.1 341.0L56.8 342.6L53.5 343.9L52.2 347.2L56.2 349.2L55.5 352.5L58.8 355.1L57.9 360.8L58.8 365.7L60.5 370.4L59.5 377.1L57.5 383.1L55.5 389.6L50.9 394.1L52.2 398.8L49.6 401.7L53.5 402.9L56.2 404.1L53.5 406.5L58.8 408.1L57.9 412.7L58.8 418.7L56.2 425.0L61.5 424.0L70.3 425.3L77.4 423.0L83.3 422.6L89.3 426.0L91.1 428.1L92.0 431.5L95.9 435.9L101.2 438.5L104.5 436.7L109.1 432.6L116.8 429.0L128.7 428.9L136.9 428.7L142.7 427.4L146.3 429.0L150.2 424.0L154.1 420.0L162.3 417.3L166.2 417.0L165.4 412.1L169.0 407.6L174.0 404.1L178.4 402.4L174.0 398.8L170.9 392.9L174.7 385.8L180.6 380.3L186.8 376.1L191.9 370.9L204.0 367.3L212.4 363.1L217.7 360.4L219.3 354.9L216.3 352.5L215.7 347.2L217.7 343.2L224.3 340.6L230.9 339.7L236.2 340.6L244.1 341.2L249.4 341.9L249.4 311.5ZM86.6 471.6L87.9 461.0L93.9 449.2L96.8 441.3L98.5 441.4L103.8 439.6L105.2 440.0L105.2 443.8L113.1 448.5L123.7 448.5L129.0 449.1L136.0 445.9L136.5 447.9L144.2 450.2L150.7 450.4L158.1 447.8L166.8 442.5L171.3 440.4L176.5 439.5L184.6 435.9L192.8 431.8L204.3 430.5L207.7 430.7L215.8 428.3L221.6 427.9L227.1 426.3L234.9 426.6L242.4 428.6L249.4 429.3L249.4 471.6ZM206.4 391.5L209.7 392.2L211.7 393.9L215.7 395.2L219.0 393.5L221.0 389.6L217.7 387.6L217.0 386.2L212.4 387.6L206.4 390.9ZM225.6 385.8L229.6 387.6L232.2 387.3L230.9 384.9L227.6 384.8ZM191.2 399.2L193.8 401.1L196.5 398.2L193.8 397.5ZM193.6 402.5L195.8 403.1L195.2 402.1Z" fill="#e2e2e4"/></g>
<g stroke="#c4c4c4" stroke-width="0.7" stroke-dasharray="1.2 1.4"><line x1="42.9" y1="319.4" x2="42.9" y2="465.0"/><line x1="109.1" y1="319.4" x2="109.1" y2="465.0"/><line x1="175.3" y1="319.4" x2="175.3" y2="465.0"/><line x1="29.7" y1="438.5" x2="241.5" y2="438.5"/><line x1="29.7" y1="412.1" x2="241.5" y2="412.1"/><line x1="29.7" y1="385.6" x2="241.5" y2="385.6"/><line x1="29.7" y1="359.1" x2="241.5" y2="359.1"/><line x1="29.7" y1="332.6" x2="241.5" y2="332.6"/></g>
<g clip-path="url(#clipc)" shape-rendering="crispEdges"><rect x="60.30" y="319.40" width="103.10" height="6.58" fill="#00008c"/><rect x="162.80" y="319.40" width="8.48" height="6.58" fill="#faf000"/><rect x="170.69" y="319.40" width="8.48" height="6.58" fill="#f00a00"/><rect x="178.57" y="319.40" width="8.48" height="6.58" fill="#ffb400"/><rect x="186.46" y="319.40" width="16.37" height="6.58" fill="#ff7800"/><rect x="202.23" y="319.40" width="16.37" height="6.58" fill="#ffb400"/><rect x="218.00" y="319.40" width="8.48" height="6.58" fill="#faf000"/><rect x="225.88" y="319.40" width="8.48" height="6.58" fill="#ffb400"/><rect x="233.77" y="319.40" width="8.48" height="6.58" fill="#ff7800"/><rect x="60.30" y="325.38" width="103.10" height="6.58" fill="#00008c"/><rect x="162.80" y="325.38" width="8.48" height="6.58" fill="#ffb400"/><rect x="170.69" y="325.38" width="8.48" height="6.58" fill="#f00a00"/><rect x="178.57" y="325.38" width="8.48" height="6.58" fill="#ff7800"/><rect x="186.46" y="325.38" width="8.48" height="6.58" fill="#ffb400"/><rect x="194.34" y="325.38" width="8.48" height="6.58" fill="#faf000"/><rect x="202.23" y="325.38" width="8.48" height="6.58" fill="#ff7800"/><rect x="210.11" y="325.38" width="8.48" height="6.58" fill="#3cf5c8"/><rect x="218.00" y="325.38" width="8.48" height="6.58" fill="#82fa7d"/><rect x="225.88" y="325.38" width="8.48" height="6.58" fill="#be0000"/><rect x="233.77" y="325.38" width="8.48" height="6.58" fill="#ff7800"/><rect x="60.30" y="331.36" width="95.22" height="6.58" fill="#00008c"/><rect x="154.92" y="331.36" width="8.48" height="6.58" fill="#82fa7d"/><rect x="162.80" y="331.36" width="8.48" height="6.58" fill="#ffb400"/><rect x="170.69" y="331.36" width="8.48" height="6.58" fill="#ff3c00"/><rect x="178.57" y="331.36" width="8.48" height="6.58" fill="#ff7800"/><rect x="186.46" y="331.36" width="8.48" height="6.58" fill="#ffb400"/><rect x="194.34" y="331.36" width="8.48" height="6.58" fill="#faf000"/><rect x="202.23" y="331.36" width="8.48" height="6.58" fill="#ff7800"/><rect x="210.11" y="331.36" width="8.48" height="6.58" fill="#82fa7d"/><rect x="218.00" y="331.36" width="8.48" height="6.58" fill="#f00a00"/><rect x="225.88" y="331.36" width="8.48" height="6.58" fill="#be0000"/><rect x="233.77" y="331.36" width="8.48" height="6.58" fill="#f00a00"/><rect x="60.30" y="337.34" width="8.48" height="6.58" fill="#00008c"/><rect x="68.19" y="337.34" width="8.48" height="6.58" fill="#ffb400"/><rect x="76.07" y="337.34" width="8.48" height="6.58" fill="#00ebff"/><rect x="83.95" y="337.34" width="8.48" height="6.58" fill="#3cf5c8"/><rect x="91.84" y="337.34" width="8.48" height="6.58" fill="#0064f0"/><rect x="99.72" y="337.34" width="55.80" height="6.58" fill="#00008c"/><rect x="154.92" y="337.34" width="8.48" height="6.58" fill="#ff7800"/><rect x="162.80" y="337.34" width="8.48" height="6.58" fill="#3cf5c8"/><rect x="170.69" y="337.34" width="8.48" height="6.58" fill="#f00a00"/><rect x="178.57" y="337.34" width="8.48" height="6.58" fill="#ff7800"/><rect x="186.46" y="337.34" width="8.48" height="6.58" fill="#82fa7d"/><rect x="194.34" y="337.34" width="8.48" height="6.58" fill="#faf000"/><rect x="202.23" y="337.34" width="8.48" height="6.58" fill="#ff3c00"/><rect x="210.11" y="337.34" width="8.48" height="6.58" fill="#3cf5c8"/><rect x="218.00" y="337.34" width="8.48" height="6.58" fill="#00aaff"/><rect x="225.88" y="337.34" width="16.37" height="6.58" fill="#00008c"/><rect x="60.30" y="343.32" width="8.48" height="6.58" fill="#ff3c00"/><rect x="68.19" y="343.32" width="32.14" height="6.58" fill="#ffb400"/><rect x="99.72" y="343.32" width="8.48" height="6.58" fill="#befa3c"/><rect x="107.61" y="343.32" width="16.37" height="6.58" fill="#82fa7d"/><rect x="123.38" y="343.32" width="24.26" height="6.58" fill="#3cf5c8"/><rect x="147.03" y="343.32" width="8.48" height="6.58" fill="#ff7800"/><rect x="154.92" y="343.32" width="8.48" height="6.58" fill="#f00a00"/><rect x="162.80" y="343.32" width="8.48" height="6.58" fill="#3cf5c8"/><rect x="170.69" y="343.32" width="8.48" height="6.58" fill="#be0000"/><rect x="178.57" y="343.32" width="8.48" height="6.58" fill="#8c0000"/><rect x="186.46" y="343.32" width="8.48" height="6.58" fill="#3cf5c8"/><rect x="194.34" y="343.32" width="8.48" height="6.58" fill="#faf000"/><rect x="202.23" y="343.32" width="8.48" height="6.58" fill="#f00a00"/><rect x="210.11" y="343.32" width="8.48" height="6.58" fill="#00ebff"/><rect x="218.00" y="343.32" width="24.26" height="6.58" fill="#00008c"/><rect x="52.41" y="349.30" width="8.48" height="6.58" fill="#00008c"/><rect x="60.30" y="349.30" width="8.48" height="6.58" fill="#ffb400"/><rect x="68.19" y="349.30" width="8.48" height="6.58" fill="#faf000"/><rect x="76.07" y="349.30" width="8.48" height="6.58" fill="#ffb400"/><rect x="83.95" y="349.30" width="8.48" height="6.58" fill="#f00a00"/><rect x="91.84" y="349.30" width="16.37" height="6.58" fill="#3cf5c8"/><rect x="107.61" y="349.30" width="16.37" height="6.58" fill="#00aaff"/><rect x="123.38" y="349.30" width="8.48" height="6.58" fill="#00ebff"/><rect x="131.26" y="349.30" width="8.48" height="6.58" fill="#82fa7d"/><rect x="139.15" y="349.30" width="8.48" height="6.58" fill="#ff7800"/><rect x="147.03" y="349.30" width="8.48" height="6.58" fill="#ff3c00"/><rect x="154.92" y="349.30" width="8.48" height="6.58" fill="#f00a00"/><rect x="162.80" y="349.30" width="8.48" height="6.58" fill="#3cf5c8"/><rect x="170.69" y="349.30" width="16.37" height="6.58" fill="#be0000"/><rect x="186.46" y="349.30" width="8.48" height="6.58" fill="#3cf5c8"/><rect x="194.34" y="349.30" width="8.48" height="6.58" fill="#ff7800"/><rect x="202.23" y="349.30" width="16.37" height="6.58" fill="#be0000"/><rect x="218.00" y="349.30" width="24.26" height="6.58" fill="#00008c"/><rect x="52.41" y="355.28" width="8.48" height="6.58" fill="#00008c"/><rect x="60.30" y="355.28" width="8.48" height="6.58" fill="#faf000"/><rect x="68.19" y="355.28" width="8.48" height="6.58" fill="#ff7800"/><rect x="76.07" y="355.28" width="16.37" height="6.58" fill="#befa3c"/><rect x="91.84" y="355.28" width="8.48" height="6.58" fill="#00aaff"/><rect x="99.72" y="355.28" width="8.48" height="6.58" fill="#0064f0"/><rect x="107.61" y="355.28" width="16.37" height="6.58" fill="#0028f0"/><rect x="123.38" y="355.28" width="8.48" height="6.58" fill="#00ebff"/><rect x="131.26" y="355.28" width="16.37" height="6.58" fill="#ffb400"/><rect x="147.03" y="355.28" width="16.37" height="6.58" fill="#be0000"/><rect x="162.80" y="355.28" width="8.48" height="6.58" fill="#00ebff"/><rect x="170.69" y="355.28" width="16.37" height="6.58" fill="#f00a00"/><rect x="186.46" y="355.28" width="8.48" height="6.58" fill="#faf000"/><rect x="194.34" y="355.28" width="8.48" height="6.58" fill="#befa3c"/><rect x="202.23" y="355.28" width="16.37" height="6.58" fill="#be0000"/><rect x="218.00" y="355.28" width="24.26" height="6.58" fill="#00008c"/><rect x="52.41" y="361.26" width="8.48" height="6.58" fill="#00008c"/><rect x="60.30" y="361.26" width="8.48" height="6.58" fill="#ff3c00"/><rect x="68.19" y="361.26" width="16.37" height="6.58" fill="#ffb400"/><rect x="83.95" y="361.26" width="8.48" height="6.58" fill="#0064f0"/><rect x="91.84" y="361.26" width="8.48" height="6.58" fill="#0000c8"/><rect x="99.72" y="361.26" width="8.48" height="6.58" fill="#0028f0"/><rect x="107.61" y="361.26" width="8.48" height="6.58" fill="#82fa7d"/><rect x="115.50" y="361.26" width="8.48" height="6.58" fill="#0064f0"/><rect x="123.38" y="361.26" width="8.48" height="6.58" fill="#82fa7d"/><rect x="131.26" y="361.26" width="8.48" height="6.58" fill="#befa3c"/><rect x="139.15" y="361.26" width="8.48" height="6.58" fill="#ff7800"/><rect x="147.03" y="361.26" width="16.37" height="6.58" fill="#8c0000"/><rect x="162.80" y="361.26" width="8.48" height="6.58" fill="#00ebff"/><rect x="170.69" y="361.26" width="8.48" height="6.58" fill="#ff7800"/><rect x="178.57" y="361.26" width="8.48" height="6.58" fill="#f00a00"/><rect x="186.46" y="361.26" width="8.48" height="6.58" fill="#faf000"/><rect x="194.34" y="361.26" width="8.48" height="6.58" fill="#befa3c"/><rect x="202.23" y="361.26" width="8.48" height="6.58" fill="#be0000"/><rect x="210.11" y="361.26" width="32.14" height="6.58" fill="#00008c"/><rect x="52.41" y="367.24" width="8.48" height="6.58" fill="#00008c"/><rect x="60.30" y="367.24" width="8.48" height="6.58" fill="#82fa7d"/><rect x="68.19" y="367.24" width="16.37" height="6.58" fill="#ffb400"/><rect x="83.95" y="367.24" width="8.48" height="6.58" fill="#00aaff"/><rect x="91.84" y="367.24" width="8.48" height="6.58" fill="#0000c8"/><rect x="99.72" y="367.24" width="16.37" height="6.58" fill="#00aaff"/><rect x="115.50" y="367.24" width="8.48" height="6.58" fill="#0028f0"/><rect x="123.38" y="367.24" width="8.48" height="6.58" fill="#82fa7d"/><rect x="131.26" y="367.24" width="8.48" height="6.58" fill="#ff7800"/><rect x="139.15" y="367.24" width="8.48" height="6.58" fill="#ffb400"/><rect x="147.03" y="367.24" width="16.37" height="6.58" fill="#8c0000"/><rect x="162.80" y="367.24" width="8.48" height="6.58" fill="#0064f0"/><rect x="170.69" y="367.24" width="8.48" height="6.58" fill="#befa3c"/><rect x="178.57" y="367.24" width="8.48" height="6.58" fill="#3cf5c8"/><rect x="186.46" y="367.24" width="8.48" height="6.58" fill="#00008c"/><rect x="194.34" y="367.24" width="8.48" height="6.58" fill="#0028f0"/><rect x="202.23" y="367.24" width="32.14" height="6.58" fill="#00008c"/><rect x="52.41" y="373.22" width="8.48" height="6.58" fill="#00008c"/><rect x="60.30" y="373.22" width="8.48" height="6.58" fill="#faf000"/><rect x="68.19" y="373.22" width="8.48" height="6.58" fill="#ff7800"/><rect x="76.07" y="373.22" width="8.48" height="6.58" fill="#ffb400"/><rect x="83.95" y="373.22" width="8.48" height="6.58" fill="#3cf5c8"/><rect x="91.84" y="373.22" width="32.14" height="6.58" fill="#00ebff"/><rect x="123.38" y="373.22" width="16.37" height="6.58" fill="#ffb400"/><rect x="139.15" y="373.22" width="16.37" height="6.58" fill="#faf000"/><rect x="154.92" y="373.22" width="8.48" height="6.58" fill="#ffb400"/><rect x="162.80" y="373.22" width="8.48" height="6.58" fill="#3cf5c8"/><rect x="170.69" y="373.22" width="8.48" height="6.58" fill="#befa3c"/><rect x="178.57" y="373.22" width="8.48" height="6.58" fill="#0028f0"/><rect x="186.46" y="373.22" width="47.91" height="6.58" fill="#00008c"/><rect x="44.53" y="379.20" width="16.37" height="6.58" fill="#00008c"/><rect x="60.30" y="379.20" width="8.48" height="6.58" fill="#ffb400"/><rect x="68.19" y="379.20" width="8.48" height="6.58" fill="#ff7800"/><rect x="76.07" y="379.20" width="8.48" height="6.58" fill="#ffb400"/><rect x="83.95" y="379.20" width="8.48" height="6.58" fill="#00aaff"/><rect x="91.84" y="379.20" width="8.48" height="6.58" fill="#00ebff"/><rect x="99.72" y="379.20" width="8.48" height="6.58" fill="#befa3c"/><rect x="107.61" y="379.20" width="16.37" height="6.58" fill="#82fa7d"/><rect x="123.38" y="379.20" width="8.48" height="6.58" fill="#8c0000"/><rect x="131.26" y="379.20" width="8.48" height="6.58" fill="#faf000"/><rect x="139.15" y="379.20" width="8.48" height="6.58" fill="#befa3c"/><rect x="147.03" y="379.20" width="8.48" height="6.58" fill="#faf000"/><rect x="154.92" y="379.20" width="8.48" height="6.58" fill="#ffb400"/><rect x="162.80" y="379.20" width="8.48" height="6.58" fill="#3cf5c8"/><rect x="170.69" y="379.20" width="8.48" height="6.58" fill="#0028f0"/><rect x="178.57" y="379.20" width="55.80" height="6.58" fill="#00008c"/><rect x="44.53" y="385.18" width="16.37" height="6.58" fill="#00008c"/><rect x="60.30" y="385.18" width="8.48" height="6.58" fill="#f00a00"/><rect x="68.19" y="385.18" width="8.48" height="6.58" fill="#ff3c00"/><rect x="76.07" y="385.18" width="8.48" height="6.58" fill="#ffb400"/><rect x="83.95" y="385.18" width="8.48" height="6.58" fill="#00aaff"/><rect x="91.84" y="385.18" width="8.48" height="6.58" fill="#befa3c"/><rect x="99.72" y="385.18" width="8.48" height="6.58" fill="#ffb400"/><rect x="107.61" y="385.18" width="16.37" height="6.58" fill="#befa3c"/><rect x="123.38" y="385.18" width="8.48" height="6.58" fill="#ffb400"/><rect x="131.26" y="385.18" width="8.48" height="6.58" fill="#faf000"/><rect x="139.15" y="385.18" width="8.48" height="6.58" fill="#befa3c"/><rect x="147.03" y="385.18" width="8.48" height="6.58" fill="#faf000"/><rect x="154.92" y="385.18" width="8.48" height="6.58" fill="#ffb400"/><rect x="162.80" y="385.18" width="8.48" height="6.58" fill="#3cf5c8"/><rect x="170.69" y="385.18" width="55.80" height="6.58" fill="#00008c"/><rect x="44.53" y="391.16" width="8.48" height="6.58" fill="#00008c"/><rect x="52.41" y="391.16" width="8.48" height="6.58" fill="#befa3c"/><rect x="60.30" y="391.16" width="16.37" height="6.58" fill="#f00a00"/><rect x="76.07" y="391.16" width="8.48" height="6.58" fill="#82fa7d"/><rect x="83.95" y="391.16" width="8.48" height="6.58" fill="#00aaff"/><rect x="91.84" y="391.16" width="8.48" height="6.58" fill="#faf000"/><rect x="99.72" y="391.16" width="8.48" height="6.58" fill="#ffb400"/><rect x="107.61" y="391.16" width="8.48" height="6.58" fill="#faf000"/><rect x="115.50" y="391.16" width="8.48" height="6.58" fill="#befa3c"/><rect x="123.38" y="391.16" width="8.48" height="6.58" fill="#ffb400"/><rect x="131.26" y="391.16" width="8.48" height="6.58" fill="#befa3c"/><rect x="139.15" y="391.16" width="16.37" height="6.58" fill="#faf000"/><rect x="154.92" y="391.16" width="8.48" height="6.58" fill="#ffb400"/><rect x="162.80" y="391.16" width="8.48" height="6.58" fill="#faf000"/><rect x="170.69" y="391.16" width="55.80" height="6.58" fill="#00008c"/><rect x="44.53" y="397.14" width="8.48" height="6.58" fill="#00008c"/><rect x="52.41" y="397.14" width="8.48" height="6.58" fill="#befa3c"/><rect x="60.30" y="397.14" width="8.48" height="6.58" fill="#be0000"/><rect x="68.19" y="397.14" width="8.48" height="6.58" fill="#ff3c00"/><rect x="76.07" y="397.14" width="8.48" height="6.58" fill="#befa3c"/><rect x="83.95" y="397.14" width="8.48" height="6.58" fill="#3cf5c8"/><rect x="91.84" y="397.14" width="8.48" height="6.58" fill="#ff7800"/><rect x="99.72" y="397.14" width="24.26" height="6.58" fill="#befa3c"/><rect x="123.38" y="397.14" width="8.48" height="6.58" fill="#ff7800"/><rect x="131.26" y="397.14" width="8.48" height="6.58" fill="#82fa7d"/><rect x="139.15" y="397.14" width="8.48" height="6.58" fill="#ff3c00"/><rect x="147.03" y="397.14" width="8.48" height="6.58" fill="#befa3c"/><rect x="154.92" y="397.14" width="16.37" height="6.58" fill="#faf000"/><rect x="170.69" y="397.14" width="55.80" height="6.58" fill="#00008c"/><rect x="44.53" y="403.12" width="16.37" height="6.58" fill="#00008c"/><rect x="60.30" y="403.12" width="8.48" height="6.58" fill="#8c0000"/><rect x="68.19" y="403.12" width="8.48" height="6.58" fill="#f00a00"/><rect x="76.07" y="403.12" width="8.48" height="6.58" fill="#faf000"/><rect x="83.95" y="403.12" width="8.48" height="6.58" fill="#3cf5c8"/><rect x="91.84" y="403.12" width="8.48" height="6.58" fill="#faf000"/><rect x="99.72" y="403.12" width="8.48" height="6.58" fill="#befa3c"/><rect x="107.61" y="403.12" width="16.37" height="6.58" fill="#faf000"/><rect x="123.38" y="403.12" width="8.48" height="6.58" fill="#ff7800"/><rect x="131.26" y="403.12" width="8.48" height="6.58" fill="#82fa7d"/><rect x="139.15" y="403.12" width="8.48" height="6.58" fill="#faf000"/><rect x="147.03" y="403.12" width="8.48" height="6.58" fill="#ffb400"/><rect x="154.92" y="403.12" width="8.48" height="6.58" fill="#faf000"/><rect x="162.80" y="403.12" width="8.48" height="6.58" fill="#0064f0"/><rect x="170.69" y="403.12" width="55.80" height="6.58" fill="#00008c"/><rect x="44.53" y="409.10" width="16.37" height="6.58" fill="#00008c"/><rect x="60.30" y="409.10" width="8.48" height="6.58" fill="#ffb400"/><rect x="68.19" y="409.10" width="8.48" height="6.58" fill="#ff3c00"/><rect x="76.07" y="409.10" width="8.48" height="6.58" fill="#faf000"/><rect x="83.95" y="409.10" width="8.48" height="6.58" fill="#00ebff"/><rect x="91.84" y="409.10" width="8.48" height="6.58" fill="#ffb400"/><rect x="99.72" y="409.10" width="8.48" height="6.58" fill="#ff7800"/><rect x="107.61" y="409.10" width="8.48" height="6.58" fill="#faf000"/><rect x="115.50" y="409.10" width="8.48" height="6.58" fill="#f00a00"/><rect x="123.38" y="409.10" width="8.48" height="6.58" fill="#ff7800"/><rect x="131.26" y="409.10" width="8.48" height="6.58" fill="#faf000"/><rect x="139.15" y="409.10" width="8.48" height="6.58" fill="#ffb400"/><rect x="147.03" y="409.10" width="8.48" height="6.58" fill="#faf000"/><rect x="154.92" y="409.10" width="8.48" height="6.58" fill="#3cf5c8"/><rect x="162.80" y="409.10" width="55.80" height="6.58" fill="#00008c"/><rect x="44.53" y="415.08" width="16.37" height="6.58" fill="#00008c"/><rect x="60.30" y="415.08" width="8.48" height="6.58" fill="#ffb400"/><rect x="68.19" y="415.08" width="8.48" height="6.58" fill="#f00a00"/><rect x="76.07" y="415.08" width="8.48" height="6.58" fill="#0064f0"/><rect x="83.95" y="415.08" width="8.48" height="6.58" fill="#00aaff"/><rect x="91.84" y="415.08" width="8.48" height="6.58" fill="#faf000"/><rect x="99.72" y="415.08" width="8.48" height="6.58" fill="#ffb400"/><rect x="107.61" y="415.08" width="8.48" height="6.58" fill="#faf000"/><rect x="115.50" y="415.08" width="8.48" height="6.58" fill="#f00a00"/><rect x="123.38" y="415.08" width="8.48" height="6.58" fill="#befa3c"/><rect x="131.26" y="415.08" width="16.37" height="6.58" fill="#faf000"/><rect x="147.03" y="415.08" width="8.48" height="6.58" fill="#82fa7d"/><rect x="154.92" y="415.08" width="63.68" height="6.58" fill="#00008c"/><rect x="36.64" y="421.06" width="24.26" height="6.58" fill="#00008c"/><rect x="60.30" y="421.06" width="8.48" height="6.58" fill="#00aaff"/><rect x="68.19" y="421.06" width="24.26" height="6.58" fill="#00008c"/><rect x="91.84" y="421.06" width="8.48" height="6.58" fill="#3cf5c8"/><rect x="99.72" y="421.06" width="8.48" height="6.58" fill="#ff7800"/><rect x="107.61" y="421.06" width="8.48" height="6.58" fill="#faf000"/><rect x="115.50" y="421.06" width="8.48" height="6.58" fill="#3cf5c8"/><rect x="123.38" y="421.06" width="24.26" height="6.58" fill="#00aaff"/><rect x="147.03" y="421.06" width="63.68" height="6.58" fill="#00008c"/><rect x="36.64" y="427.04" width="55.80" height="6.58" fill="#00008c"/><rect x="91.84" y="427.04" width="8.48" height="6.58" fill="#0000c8"/><rect x="99.72" y="427.04" width="8.48" height="6.58" fill="#faf000"/><rect x="107.61" y="427.04" width="8.48" height="6.58" fill="#0028f0"/><rect x="115.50" y="427.04" width="95.22" height="6.58" fill="#00008c"/><rect x="36.64" y="433.02" width="142.53" height="6.58" fill="#00008c"/><rect x="178.57" y="433.02" width="8.48" height="6.58" fill="#0028f0"/><rect x="186.46" y="433.02" width="8.48" height="6.58" fill="#ff3c00"/><rect x="194.34" y="433.02" width="8.48" height="6.58" fill="#f00a00"/><rect x="202.23" y="433.02" width="8.48" height="6.58" fill="#be0000"/><rect x="36.64" y="439.00" width="142.53" height="6.58" fill="#00008c"/><rect x="178.57" y="439.00" width="8.48" height="6.58" fill="#ff3c00"/><rect x="186.46" y="439.00" width="24.26" height="6.58" fill="#f00a00"/><rect x="36.64" y="444.98" width="63.68" height="6.58" fill="#00008c"/><rect x="99.72" y="444.98" width="8.48" height="6.58" fill="#00ebff"/><rect x="107.61" y="444.98" width="55.80" height="6.58" fill="#00008c"/><rect x="162.80" y="444.98" width="8.48" height="6.58" fill="#00aaff"/><rect x="170.69" y="444.98" width="8.48" height="6.58" fill="#00ebff"/><rect x="178.57" y="444.98" width="8.48" height="6.58" fill="#be0000"/><rect x="186.46" y="444.98" width="8.48" height="6.58" fill="#f00a00"/><rect x="194.34" y="444.98" width="8.48" height="6.58" fill="#ff3c00"/><rect x="36.64" y="450.96" width="55.80" height="6.58" fill="#00008c"/><rect x="91.84" y="450.96" width="8.48" height="6.58" fill="#0028f0"/><rect x="99.72" y="450.96" width="8.48" height="6.58" fill="#befa3c"/><rect x="107.61" y="450.96" width="8.48" height="6.58" fill="#3cf5c8"/><rect x="115.50" y="450.96" width="8.48" height="6.58" fill="#00aaff"/><rect x="123.38" y="450.96" width="8.48" height="6.58" fill="#3cf5c8"/><rect x="131.26" y="450.96" width="8.48" height="6.58" fill="#0064f0"/><rect x="139.15" y="450.96" width="8.48" height="6.58" fill="#0028f0"/><rect x="147.03" y="450.96" width="8.48" height="6.58" fill="#00aaff"/><rect x="154.92" y="450.96" width="16.37" height="6.58" fill="#3cf5c8"/><rect x="170.69" y="450.96" width="8.48" height="6.58" fill="#befa3c"/><rect x="178.57" y="450.96" width="8.48" height="6.58" fill="#f00a00"/><rect x="186.46" y="450.96" width="8.48" height="6.58" fill="#ff3c00"/><rect x="194.34" y="450.96" width="8.48" height="6.58" fill="#ff7800"/><rect x="36.64" y="456.94" width="55.80" height="6.58" fill="#00008c"/><rect x="91.84" y="456.94" width="8.48" height="6.58" fill="#befa3c"/><rect x="99.72" y="456.94" width="16.37" height="6.58" fill="#faf000"/><rect x="115.50" y="456.94" width="8.48" height="6.58" fill="#ffb400"/><rect x="123.38" y="456.94" width="8.48" height="6.58" fill="#befa3c"/><rect x="131.26" y="456.94" width="8.48" height="6.58" fill="#82fa7d"/><rect x="139.15" y="456.94" width="16.37" height="6.58" fill="#3cf5c8"/><rect x="154.92" y="456.94" width="8.48" height="6.58" fill="#82fa7d"/><rect x="162.80" y="456.94" width="8.48" height="6.58" fill="#00ebff"/><rect x="170.69" y="456.94" width="8.48" height="6.58" fill="#befa3c"/><rect x="178.57" y="456.94" width="8.48" height="6.58" fill="#ffb400"/><rect x="186.46" y="456.94" width="8.48" height="6.58" fill="#faf000"/><rect x="194.34" y="456.94" width="8.48" height="6.58" fill="#ff7800"/></g>
<rect x="29.7" y="319.4" width="211.8" height="145.6" fill="none" stroke="#a4a4a4" stroke-width="1.2"/>
<g font-family="Liberation Sans" font-size="8.0" fill="#262626" stroke="#262626" stroke-width="0.45"><text x="42.0" y="476.5" text-anchor="middle">-10</text><text x="108.2" y="476.5" text-anchor="middle">-5</text><text x="175.3" y="476.5" text-anchor="middle">0</text><text x="241.5" y="476.5" text-anchor="middle">5</text><text x="28.0" y="467.9" text-anchor="end">34</text><text x="28.0" y="441.4" text-anchor="end">36</text><text x="28.0" y="414.9" text-anchor="end">38</text><text x="28.0" y="388.5" text-anchor="end">40</text><text x="28.0" y="362.0" text-anchor="end">42</text><text x="28.0" y="335.5" text-anchor="end">44</text></g>
<text x="135.6" y="486.0" text-anchor="middle" font-family="Liberation Sans" font-size="8.1" fill="#262626" stroke="#262626" stroke-width="0.40">Longitude (deg)</text>
<text transform="translate(14.0 392.2) rotate(-90)" text-anchor="middle" font-family="Liberation Sans" font-size="8.1" fill="#262626" stroke="#262626" stroke-width="0.40">Latitude (deg)</text>
<rect x="249.4" y="319.4" width="10.6" height="145.6" fill="url(#cbc)"/>
<g font-family="Liberation Sans" font-size="8.2" fill="#262626" stroke="#262626" stroke-width="0.45"><text x="261.5" y="468.8">200</text><text x="261.5" y="439.6">220</text><text x="261.5" y="410.5">240</text><text x="261.5" y="381.4">260</text><text x="261.5" y="352.3">280</text><text x="261.5" y="323.2">300</text></g>
<g clip-path="url(#clipd)"><path d="M525.4 314.9L525.4 327.5L524.7 335.1L522.8 340.2L518.5 342.9L515.6 343.7L509.0 342.9L502.5 343.3L496.0 342.1L492.0 341.8L482.9 342.7L476.3 341.8L467.7 340.8L465.2 339.4L460.6 340.5L449.6 340.8L444.9 338.9L441.3 337.9L437.1 339.2L433.1 340.8L431.8 343.1L424.6 344.6L421.4 345.8L420.0 349.0L424.0 350.9L423.3 354.0L426.6 356.6L425.7 362.0L426.6 366.7L428.3 371.1L427.2 377.5L425.3 383.2L423.3 389.4L418.7 393.7L420.0 398.2L417.4 401.0L421.4 402.1L424.0 403.3L421.4 405.5L426.6 407.0L425.7 411.5L426.6 417.1L424.0 423.2L429.2 422.2L438.0 423.4L444.9 421.3L450.8 420.9L456.7 424.1L458.5 426.1L459.4 429.4L463.2 433.5L468.5 436.1L471.7 434.3L476.3 430.4L483.9 427.0L495.7 426.9L503.8 426.7L509.6 425.5L513.1 427.0L516.9 422.2L520.8 418.4L528.9 415.9L532.7 415.5L531.9 410.8L535.5 406.5L540.5 403.3L544.8 401.6L540.5 398.2L537.4 392.5L541.1 385.8L547.0 380.5L553.1 376.5L558.1 371.6L570.2 368.2L578.4 364.1L583.6 361.6L585.2 356.3L582.3 354.0L581.7 349.0L583.6 345.2L590.2 342.7L596.7 341.8L602.0 342.7L609.8 343.3L615.1 344.0L615.1 314.9ZM454.1 467.6L455.4 457.5L461.3 446.3L464.2 438.7L465.9 438.8L471.1 437.1L472.4 437.5L472.4 441.1L480.3 445.5L490.7 445.5L496.0 446.2L502.9 443.1L503.4 445.0L511.0 447.2L517.4 447.4L524.7 444.9L533.4 439.8L537.8 437.8L542.9 436.9L550.9 433.5L559.0 429.6L570.4 428.4L573.8 428.6L581.8 426.3L587.6 426.0L592.9 424.5L600.7 424.7L608.1 426.6L615.1 427.2L615.1 467.6ZM572.5 391.3L575.8 391.9L577.8 393.5L581.7 394.8L585.0 393.2L586.9 389.4L583.6 387.5L583.0 386.2L578.4 387.5L572.5 390.6ZM591.5 385.8L595.4 387.5L598.0 387.2L596.7 385.0L593.5 384.8ZM557.5 398.6L560.1 400.4L562.7 397.6L560.1 396.9ZM559.8 401.7L562.0 402.2L561.4 401.4Z" fill="#e2e2e4"/></g>
<g stroke="#c4c4c4" stroke-width="0.7" stroke-dasharray="1.2 1.4"><line x1="410.9" y1="322.5" x2="410.9" y2="461.3"/><line x1="476.3" y1="322.5" x2="476.3" y2="461.3"/><line x1="541.8" y1="322.5" x2="541.8" y2="461.3"/><line x1="397.8" y1="436.1" x2="607.2" y2="436.1"/><line x1="397.8" y1="410.8" x2="607.2" y2="410.8"/><line x1="397.8" y1="385.6" x2="607.2" y2="385.6"/><line x1="397.8" y1="360.4" x2="607.2" y2="360.4"/><line x1="397.8" y1="335.1" x2="607.2" y2="335.1"/></g>
<g clip-path="url(#clipd)">
<defs><clipPath id="ddata"><path d="M470.5 353.5L477.1 348.6L483.7 347.3L483.7 342.8L497.2 342.0L506.8 342.6L506.8 347.8L516.0 347.8L516.0 353.1L522.2 353.1L522.2 347.8L561.7 347.8L561.7 352.7L574.8 352.7L574.8 358.1L559.7 358.1L559.7 369.0L544.7 369.0L544.7 374.4L552.2 374.4L552.2 379.8L544.7 379.8L544.7 385.3L537.1 385.3L537.1 396.1L547.1 396.1L547.1 451.7L424.4 451.7L424.4 429.8L429.9 420.9L430.8 418.2L437.4 417.3L435.5 414.6L431.8 412.8L430.8 409.2L434.6 405.6L438.4 402.9L441.2 399.4L435.5 394.9L430.8 390.5L433.7 384.2L436.7 383.4L441.4 380.8L445.1 378.1L448.9 375.4L452.6 372.7L457.4 371.8L462.1 369.1L464.9 365.6L468.6 361.1Z"/><path d="M431.5 354.9L438.5 354.4L446.0 353.0L452.6 352.2L460.1 353.5L465.8 354.4L470.5 353.5L475.8 352.6L477.3 357.0L470.5 361.1L466.7 363.3L462.1 365.6L456.4 364.7L450.8 364.7L446.0 366.0L438.5 364.7L432.8 363.8L431.5 362.0Z"/><path d="M459.3 337.6L484.2 337.6L484.2 354.0L459.3 354.0Z"/></clipPath><clipPath id="dnw"><path d="M431.5 354.9L438.5 354.4L446.0 353.0L452.6 352.2L460.1 353.5L465.8 354.4L470.5 353.5L475.8 352.6L477.3 357.0L470.5 361.1L466.7 363.3L462.1 365.6L456.4 364.7L450.8 364.7L446.0 366.0L438.5 364.7L432.8 363.8L431.5 362.0Z"/></clipPath></defs>
<g clip-path="url(#maind)"><g clip-path="url(#ddata)"><g filter="url(#warpD)"><path d="M470.5 353.5L477.1 348.6L483.7 347.3L483.7 342.8L497.2 342.0L506.8 342.6L506.8 347.8L516.0 347.8L516.0 353.1L522.2 353.1L522.2 347.8L561.7 347.8L561.7 352.7L574.8 352.7L574.8 358.1L559.7 358.1L559.7 369.0L544.7 369.0L544.7 374.4L552.2 374.4L552.2 379.8L544.7 379.8L544.7 385.3L537.1 385.3L537.1 396.1L547.1 396.1L547.1 451.7L424.4 451.7L424.4 429.8L429.9 420.9L430.8 418.2L437.4 417.3L435.5 414.6L431.8 412.8L430.8 409.2L434.6 405.6L438.4 402.9L441.2 399.4L435.5 394.9L430.8 390.5L433.7 384.2L436.7 383.4L441.4 380.8L445.1 378.1L448.9 375.4L452.6 372.7L457.4 371.8L462.1 369.1L464.9 365.6L468.6 361.1Z" fill="#e6f41e"/><path d="M424.0 378.0L439.7 383.1L476.3 381.8L496.0 378.0L510.4 370.4L515.6 375.5L496.0 385.6L476.3 389.4L439.7 389.4L424.0 386.9Z" fill="#c8f040"/><path d="M424.0 335.1L520.8 335.1L520.8 356.6L510.4 370.4L496.0 378.0L476.3 381.8L439.7 383.1L424.0 379.3Z" fill="#acf05a"/><path d="M459.3 340.2L520.8 340.2L520.8 349.0L496.0 354.0L469.8 355.3L459.3 352.8Z" fill="#84ee90"/><path d="M465.9 370.4L482.9 373.0L490.7 376.8L484.2 380.5L468.5 378.0Z" fill="#70eab8"/><path d="M459.3 337.6L484.2 337.6L484.2 351.5L459.3 351.5Z" fill="#70eab8"/><path d="M489.4 360.4L509.0 362.9L507.7 366.7L489.4 365.4Z" fill="#8cf080"/><path d="M431.5 354.9L438.5 354.4L446.0 353.0L452.6 352.2L460.1 353.5L465.8 354.4L470.5 353.5L475.8 352.6L477.3 357.0L470.5 361.1L466.7 363.3L462.1 365.6L456.4 364.7L450.8 364.7L446.0 366.0L438.5 364.7L432.8 363.8L431.5 362.0Z" fill="#8cf07c"/><path d="M513.0 352.8L552.2 354.0L557.5 365.4L550.9 374.2L531.3 376.8L515.6 369.2Z" fill="#fcd200"/><path d="M520.8 360.4L545.7 360.4L549.6 369.2L535.2 371.7L522.1 367.9Z" fill="#f8b400"/><path d="M533.9 347.7L573.2 347.7L573.2 353.4L533.9 353.4Z" fill="#70ecb0"/><path d="M514.3 402.0L533.9 402.0L532.6 413.4L515.6 413.4Z" fill="#fad000"/><path d="M458.0 411.5L477.6 411.5L477.6 420.9L458.0 420.9Z" fill="#f8e000"/><rect x="424.0" y="340.2" width="96.8" height="42.9" filter="url(#spkDc)" opacity="0.80"/><rect x="450.2" y="383.1" width="91.6" height="40.4" filter="url(#spkDo)" opacity="0.60"/><rect x="513.0" y="352.8" width="44.5" height="22.7" filter="url(#spkDo)" opacity="0.80"/></g></g></g>
<g clip-path="url(#maind)"><g clip-path="url(#dnw)"><rect x="424.0" y="347.7" width="52.4" height="20.2" filter="url(#spkG50)"/></g></g>
<g clip-path="url(#maind)"><path d="M410.9 391.9L429.7 391.9L429.2 403.3L429.7 418.4L410.9 418.4Z" fill="#e2e2e4"/></g>
<g clip-path="url(#maind)"><path d="M546.3 320.0L613.7 320.0L613.7 346.5L546.3 346.5Z" fill="#f2ec28"/><path d="M583.6 323.8L605.9 323.8L605.9 335.1L583.6 335.1Z" fill="#f0e8a0"/></g>
<g clip-path="url(#afrd)"><g filter="url(#warpD)"><path d="M541.8 420.9L613.7 420.9L613.7 456.0L541.8 456.0Z" fill="#f4e810"/><path d="M566.8 436.1L613.7 436.1L613.7 455.4L566.8 455.4Z" fill="#f8c400"/><path d="M578.4 439.8L607.2 439.8L607.2 453.7L578.4 453.7Z" fill="#f8a800"/><path d="M556.8 436.9L561.4 436.1L566.8 437.3L566.8 456.0L556.8 456.0Z" fill="#e2e2e4"/><path d="M516.5 433.5L541.8 433.5L541.8 450.1L516.5 450.1Z" fill="#d2f032"/><path d="M457.3 433.5L482.5 433.5L482.5 458.0L457.3 458.0Z" fill="#eef410"/><path d="M475.9 438.6L498.4 438.6L498.4 448.8L475.9 448.8Z" fill="#d8f030"/></g></g>
<g clip-path="url(#isld)"><rect x="490" y="370" width="120" height="50" fill="#f0ec20"/></g>
</g>
<rect x="397.8" y="322.5" width="209.4" height="138.8" fill="none" stroke="#a4a4a4" stroke-width="1.2"/>
<g font-family="Liberation Sans" font-size="8.0" fill="#262626" stroke="#262626" stroke-width="0.45"><text x="409.9" y="472.3" text-anchor="middle">-10</text><text x="475.4" y="472.3" text-anchor="middle">-5</text><text x="541.8" y="472.3" text-anchor="middle">0</text><text x="607.2" y="472.3" text-anchor="middle">5</text><text x="395.0" y="464.2" text-anchor="end">34</text><text x="395.0" y="438.9" text-anchor="end">36</text><text x="395.0" y="413.7" text-anchor="end">38</text><text x="395.0" y="388.5" text-anchor="end">40</text><text x="395.0" y="363.2" text-anchor="end">42</text><text x="395.0" y="338.0" text-anchor="end">44</text></g>
<text x="502.5" y="481.0" text-anchor="middle" font-family="Liberation Sans" font-size="8.1" fill="#262626" stroke="#262626" stroke-width="0.40">Longitude (deg)</text>
<text transform="translate(382.0 391.9) rotate(-90)" text-anchor="middle" font-family="Liberation Sans" font-size="8.1" fill="#262626" stroke="#262626" stroke-width="0.40">Latitude (deg)</text>
<rect x="615.3" y="322.5" width="10.4" height="138.8" fill="url(#cbd)"/>
<g font-family="Liberation Sans" font-size="8.2" fill="#262626" stroke="#262626" stroke-width="0.45"><text x="626.5" y="465.1">250</text><text x="626.5" y="445.2">260</text><text x="626.5" y="425.4">270</text><text x="626.5" y="405.6">280</text><text x="626.5" y="385.7">290</text><text x="626.5" y="365.9">300</text><text x="626.5" y="346.1">310</text><text x="626.5" y="326.3">320</text></g>
<g clip-path="url(#clipe)"><path d="M878.0 290.1L878.0 304.8L877.3 313.6L875.2 319.5L870.8 322.7L867.8 323.6L861.0 322.7L854.2 323.2L847.4 321.7L843.3 321.4L833.8 322.4L827.0 321.4L818.1 320.2L815.5 318.6L810.8 319.9L799.4 320.2L794.5 318.0L790.7 316.9L786.3 318.3L782.3 320.2L780.9 322.9L773.4 324.7L770.0 326.1L768.7 329.8L772.8 332.0L772.1 335.7L775.5 338.6L774.5 345.0L775.5 350.4L777.2 355.6L776.1 363.1L774.1 369.7L772.1 376.9L767.3 381.9L768.7 387.2L766.0 390.4L770.0 391.8L772.8 393.1L770.0 395.7L775.5 397.5L774.5 402.7L775.5 409.3L772.8 416.4L778.2 415.2L787.3 416.6L794.5 414.1L800.6 413.7L806.7 417.4L808.6 419.7L809.5 423.6L813.5 428.4L818.9 431.4L822.3 429.3L827.0 424.7L834.9 420.8L847.1 420.6L855.6 420.5L861.5 419.0L865.2 420.8L869.1 415.2L873.2 410.8L881.6 407.8L885.6 407.4L884.7 401.9L888.4 396.9L893.6 393.1L898.0 391.2L893.6 387.2L890.4 380.6L894.2 372.8L900.4 366.6L906.7 361.9L911.9 356.2L924.4 352.2L932.9 347.5L938.4 344.5L940.0 338.3L937.0 335.7L936.3 329.8L938.4 325.4L945.2 322.4L951.9 321.4L957.4 322.4L965.5 323.2L970.9 323.9L970.9 290.1ZM804.0 468.2L805.3 456.4L811.4 443.3L814.4 434.5L816.2 434.6L821.6 432.5L823.0 433.0L823.0 437.3L831.1 442.4L842.0 442.4L847.4 443.1L854.6 439.6L855.2 441.8L863.0 444.3L869.7 444.6L877.3 441.7L886.2 435.8L890.9 433.4L896.1 432.4L904.4 428.4L912.8 423.9L924.7 422.4L928.2 422.7L936.5 420.0L942.4 419.6L948.0 417.8L956.0 418.1L963.8 420.3L970.9 421.1L970.9 468.2ZM926.8 379.1L930.2 379.9L932.3 381.8L936.3 383.2L939.7 381.3L941.8 376.9L938.4 374.7L937.7 373.2L932.9 374.7L926.8 378.4ZM946.5 372.8L950.6 374.7L953.3 374.4L951.9 371.8L948.5 371.6ZM911.2 387.7L913.9 389.7L916.6 386.5L913.9 385.7ZM913.7 391.3L916.0 391.9L915.3 390.9Z" fill="#e2e2e4"/></g>
<g stroke="#c4c4c4" stroke-width="0.7" stroke-dasharray="1.2 1.4"><line x1="759.2" y1="298.9" x2="759.2" y2="460.8"/><line x1="827.0" y1="298.9" x2="827.0" y2="460.8"/><line x1="894.9" y1="298.9" x2="894.9" y2="460.8"/><line x1="745.6" y1="431.4" x2="962.8" y2="431.4"/><line x1="745.6" y1="401.9" x2="962.8" y2="401.9"/><line x1="745.6" y1="372.5" x2="962.8" y2="372.5"/><line x1="745.6" y1="343.1" x2="962.8" y2="343.1"/><line x1="745.6" y1="313.6" x2="962.8" y2="313.6"/></g>
<g clip-path="url(#clipe)">
<g clip-path="url(#maine)"><g filter="url(#warpE)"><rect x="740" y="290" width="230" height="180" fill="#2898f5"/><path d="M810.8 338.6L861.0 338.6L881.3 343.1L901.7 351.9L894.9 372.5L881.3 387.2L867.8 401.9L833.8 397.5L809.4 390.2L804.0 372.5L804.0 350.4Z" fill="#1474f2"/><path d="M832.5 343.1L856.9 344.5L863.7 357.8L847.4 366.6L829.8 363.7L824.3 350.4Z" fill="#0a5cea"/><path d="M843.3 375.4L874.6 375.4L881.3 390.2L856.9 393.1L837.9 387.2Z" fill="#0c64ea"/><path d="M805.3 366.6L840.6 370.3L874.6 368.1L874.6 373.2L840.6 375.4L805.3 372.5Z" fill="#34c8f0"/><path d="M820.3 353.4L847.4 359.2L848.8 362.2L820.3 357.0Z" fill="#40d0e0"/><path d="M774.1 394.6L813.5 396.0L840.6 397.5L867.8 403.4L873.2 410.8L840.6 422.5L810.8 419.6L793.1 416.6L774.1 416.6Z" fill="#2898f0"/><path d="M813.5 403.4L854.2 406.3L854.2 409.3L813.5 407.1Z" fill="#60d8b0"/><path d="M805.3 413.7L821.6 413.7L821.6 428.4L805.3 424.0Z" fill="#3cc0e0"/><path d="M877.3 360.7L905.8 360.7L905.8 382.8L892.2 397.5L878.6 393.1L875.9 375.4Z" fill="#2c9cf0"/><path d="M791.8 340.1L813.5 340.1L813.5 393.1L789.0 393.1Z" fill="#48d0c0"/><path d="M764.6 343.1L797.2 343.1L802.6 357.8L799.9 372.5L791.8 387.2L786.3 401.9L764.6 401.9Z" fill="#a0dc68"/><path d="M776.8 348.9L791.8 348.9L793.1 369.5L783.6 378.4L775.5 372.5Z" fill="#c8dc40"/><path d="M778.2 354.8L786.3 354.8L787.7 372.5L780.9 372.5Z" fill="#f0a020"/><path d="M791.8 328.3L927.5 328.3L922.1 341.6L901.7 346.0L881.3 343.1L854.2 341.6L827.0 341.6L806.7 343.1L794.5 346.0Z" fill="#8cdc80"/><path d="M763.2 313.6L802.6 313.6L801.3 334.2L794.5 343.1L783.6 347.5L763.2 347.5Z" fill="#ff9000"/><path d="M779.5 329.8L795.8 329.8L794.5 341.6L782.3 341.6Z" fill="#f8b420"/><path d="M799.9 313.6L942.4 313.6L942.4 334.2L908.5 336.4L881.3 332.0L854.2 329.8L827.0 328.3L799.9 329.8Z" fill="#ff8400"/><path d="M854.2 321.0L894.9 324.7L942.4 328.3L942.4 335.7L922.1 339.4L901.7 336.4L874.6 330.5L854.2 327.6Z" fill="#f25000"/><path d="M915.3 335.7L941.1 335.7L941.1 348.9L922.1 353.4L913.9 348.9Z" fill="#e8a040"/><path d="M873.2 296.0L905.8 296.0L905.8 323.9L873.2 323.9Z" fill="#f4cc10"/><path d="M905.8 296.0L939.7 296.0L939.7 323.9L905.8 323.9Z" fill="#60dcc0"/><path d="M939.7 296.0L970.9 296.0L970.9 325.4L939.7 325.4Z" fill="#e8a83c"/><path d="M942.4 307.7L957.4 307.7L957.4 316.6L942.4 316.6Z" fill="#f06018"/><rect x="799.9" y="341.6" width="97.7" height="57.4" filter="url(#spkEc)" opacity="0.90"/><rect x="799.9" y="341.6" width="97.7" height="57.4" filter="url(#spkEg)" opacity="0.80"/><rect x="775.5" y="396.0" width="105.9" height="29.4" filter="url(#spkEc)" opacity="0.90"/><rect x="775.5" y="396.0" width="105.9" height="29.4" filter="url(#spkEg)" opacity="0.80"/><rect x="766.0" y="313.6" width="177.8" height="22.1" filter="url(#spkEr)" opacity="0.80"/><rect x="766.0" y="313.6" width="177.8" height="22.1" filter="url(#spkEy)" opacity="0.70"/><rect x="764.6" y="343.1" width="35.3" height="58.9" filter="url(#spkEb)" opacity="0.50"/><rect x="764.6" y="343.1" width="35.3" height="58.9" filter="url(#spkEy)" opacity="0.60"/><rect x="873.2" y="296.0" width="96.4" height="28.0" filter="url(#spkEr)" opacity="0.60"/><rect x="873.2" y="296.0" width="96.4" height="28.0" filter="url(#spkEc)" opacity="0.60"/><rect x="874.6" y="357.8" width="33.9" height="39.7" filter="url(#spkEb)" opacity="0.60"/></g></g>
<g clip-path="url(#afre)"><g filter="url(#warpE)"><rect x="740" y="400" width="230" height="70" fill="#0848dc"/><path d="M799.9 428.4L874.6 428.4L874.6 456.4L799.9 456.4Z" fill="#1070f0"/><path d="M805.3 431.4L827.0 431.4L827.0 446.1L805.3 446.1Z" fill="#30b8e8"/><path d="M827.0 437.3L847.4 440.2L847.4 446.1L827.0 444.6Z" fill="#28a8f0"/><path d="M899.0 416.6L969.6 416.6L969.6 424.7L935.6 426.2L915.3 427.7L899.0 432.8Z" fill="#48c4c8"/><path d="M888.1 428.4L915.3 424.0L915.3 428.4L888.1 434.3Z" fill="#2a90f0"/><path d="M786.3 454.6L976.4 454.6L976.4 475.5L786.3 475.5Z" fill="#e2e2e4"/><path d="M960.8 413.7L976.4 413.7L976.4 475.5L960.8 475.5Z" fill="#e2e2e4"/><rect x="799.9" y="428.4" width="162.9" height="26.5" filter="url(#spkEa)" opacity="0.80"/><rect x="908.5" y="416.6" width="54.3" height="17.7" filter="url(#spkEy)" opacity="0.50"/></g></g>
<g clip-path="url(#isle)"><rect x="850" y="350" width="120" height="60" fill="#40c8d8"/></g>
</g>
<rect x="745.6" y="298.9" width="217.2" height="161.9" fill="none" stroke="#a4a4a4" stroke-width="1.2"/>
<g font-family="Liberation Sans" font-size="8.3" fill="#262626" stroke="#262626" stroke-width="0.45"><text x="758.2" y="473.0" text-anchor="middle">-10</text><text x="826.1" y="473.0" text-anchor="middle">-5</text><text x="894.9" y="473.0" text-anchor="middle">0</text><text x="962.8" y="473.0" text-anchor="middle">5</text><text x="743.0" y="463.8" text-anchor="end">34</text><text x="743.0" y="434.4" text-anchor="end">36</text><text x="743.0" y="404.9" text-anchor="end">38</text><text x="743.0" y="375.5" text-anchor="end">40</text><text x="743.0" y="346.0" text-anchor="end">42</text><text x="743.0" y="316.6" text-anchor="end">44</text></g>
<text x="854.2" y="483.5" text-anchor="middle" font-family="Liberation Sans" font-size="8.3" fill="#262626" stroke="#262626" stroke-width="0.40">Longitude (deg)</text>
<text transform="translate(730.0 379.9) rotate(-90)" text-anchor="middle" font-family="Liberation Sans" font-size="8.3" fill="#262626" stroke="#262626" stroke-width="0.40">Latitude (deg)</text>
<rect x="971.3" y="298.9" width="11.3" height="161.9" fill="url(#cbe)"/>
<g font-family="Liberation Sans" font-size="8.2" fill="#262626" stroke="#262626" stroke-width="0.45"><text x="984.5" y="464.6">0</text><text x="984.5" y="432.2">0.2</text><text x="984.5" y="399.8">0.4</text><text x="984.5" y="367.4">0.6</text><text x="984.5" y="335.0">0.8</text><text x="984.5" y="302.7">1</text></g>

</g></svg>
<svg width="1000" height="530" viewBox="0 0 1000 530">

<text x="48.2" y="283.3" font-family="Liberation Serif" font-size="21.5" fill="#000">(<tspan font-weight="bold">a</tspan>) 40 km SMOS s<tspan font-size="12.5" dy="3">m</tspan><tspan dy="-3"> </tspan>[m<tspan font-size="13" dy="-8">3</tspan><tspan dy="8">/m</tspan><tspan font-size="13" dy="-8">3</tspan><tspan dy="8">]</tspan></text>
<text x="438.0" y="283.3" font-family="Liberation Serif" font-size="21.5" fill="#000">(<tspan font-weight="bold">b</tspan>) 1 km s<tspan font-size="12.5" dy="3">m</tspan><tspan dy="-3"> </tspan>[m<tspan font-size="13" dy="-8">3</tspan><tspan dy="8">/m</tspan><tspan font-size="13" dy="-8">3</tspan><tspan dy="8">]</tspan>, using the proposed algorithm</text>
<text x="33.8" y="523.0" font-family="Liberation Serif" font-size="21.5" fill="#000">(<tspan font-weight="bold">c</tspan>) 40 km SMOS T<tspan font-size="12.5" dy="3">B</tspan><tspan dy="-3"> [K]</tspan></text>
<text x="366.6" y="523.5" font-family="Liberation Serif" font-size="21.5" fill="#000">(<tspan font-weight="bold">d</tspan>) 1 km MODIS/TERRA Ts [K]</text>
<text x="715.0" y="523.5" font-family="Liberation Serif" font-size="21.5" fill="#000">(<tspan font-weight="bold">e</tspan>) 1 km MODIS/TERRA NDVI</text>
</svg></body></html>
